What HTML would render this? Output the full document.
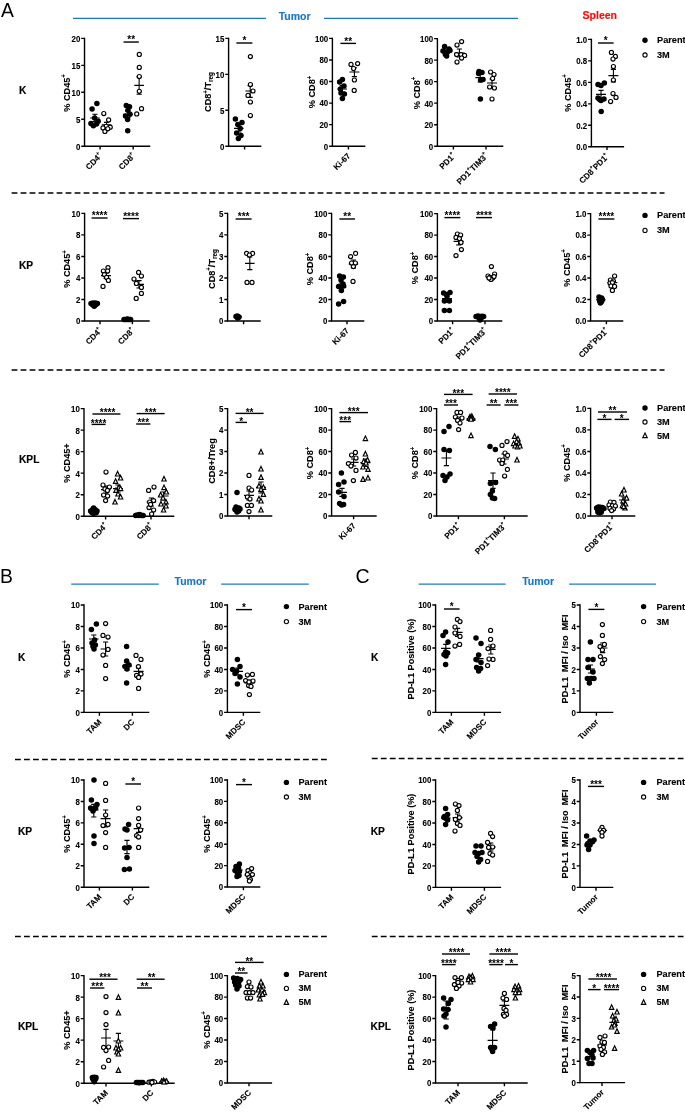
<!DOCTYPE html>
<html lang="en">
<head>
<meta charset="utf-8">
<title>Figure</title>
<style>
html,body{margin:0;padding:0;background:#fff;}
body{width:685px;height:1113px;overflow:hidden;}
svg{display:block;}
svg text{font-family:"Liberation Sans", Arial, Helvetica, sans-serif;font-weight:bold;fill:#000;stroke:#000;stroke-width:0.1px;}
svg text.st{stroke:none;}
</style>
</head>
<body>
<svg width="685" height="1113" viewBox="0 0 685 1113">
<rect width="685" height="1113" fill="#fff"/>
<text x="0.9" y="17" font-size="19.3" fill="#000" font-weight="normal" text-anchor="start" style="fill:#000;font-weight:normal;stroke:#000;stroke-width:0">A</text>
<text x="-0.1" y="583.2" font-size="19.3" fill="#000" font-weight="normal" text-anchor="start" style="fill:#000;font-weight:normal;stroke:#000;stroke-width:0">B</text>
<text x="355.6" y="583.3" font-size="19.6" fill="#000" font-weight="normal" text-anchor="start" style="fill:#000;font-weight:normal;stroke:#000;stroke-width:0">C</text>
<path d="M73 18.45H266" stroke="#1a78c8" stroke-width="1.25" fill="none"/>
<path d="M324 18.45H518" stroke="#1a78c8" stroke-width="1.25" fill="none"/>
<text x="278.7" y="19.5" font-size="10.5" fill="#1a78c8" font-weight="bold" text-anchor="start" style="fill:#1a78c8;font-weight:bold;stroke:#1a78c8;stroke-width:0.15px">Tumor</text>
<text x="582.6" y="19.2" font-size="10.5" fill="#ff0a0a" font-weight="bold" text-anchor="start" style="fill:#ff0a0a;font-weight:bold;stroke:#ff0a0a;stroke-width:0.15px">Spleen</text>
<path d="M71.2 584.1H158.7" stroke="#1a78c8" stroke-width="1.25" fill="none"/>
<path d="M221.2 584.1H308.7" stroke="#1a78c8" stroke-width="1.25" fill="none"/>
<text x="174.5" y="585.2" font-size="10.5" fill="#1a78c8" font-weight="bold" text-anchor="start" style="fill:#1a78c8;font-weight:bold;stroke:#1a78c8;stroke-width:0.15px">Tumor</text>
<path d="M418.7 584.1H505.7" stroke="#1a78c8" stroke-width="1.25" fill="none"/>
<path d="M569.1 584.1H656" stroke="#1a78c8" stroke-width="1.25" fill="none"/>
<text x="522.2" y="585.2" font-size="10.5" fill="#1a78c8" font-weight="bold" text-anchor="start" style="fill:#1a78c8;font-weight:bold;stroke:#1a78c8;stroke-width:0.15px">Tumor</text>
<path d="M11.6 193.1H664.5" stroke="#000" stroke-width="1.5" stroke-dasharray="5.8 3.2" fill="none"/>
<path d="M11.6 370.1H664.5" stroke="#000" stroke-width="1.5" stroke-dasharray="5.8 3.2" fill="none"/>
<path d="M15 759.4H327" stroke="#000" stroke-width="1.5" stroke-dasharray="5.8 3.2" fill="none"/>
<path d="M371.8 758.6H683.5" stroke="#000" stroke-width="1.5" stroke-dasharray="5.8 3.2" fill="none"/>
<path d="M15 936.6H327" stroke="#000" stroke-width="1.5" stroke-dasharray="5.8 3.2" fill="none"/>
<path d="M371.8 936.4H683.5" stroke="#000" stroke-width="1.5" stroke-dasharray="5.8 3.2" fill="none"/>
<text x="19" y="93.8" font-size="10.2" fill="#000" font-weight="bold" text-anchor="start" style="fill:#000;font-weight:bold;stroke:#000;stroke-width:0.15px">K</text>
<text x="19" y="268.8" font-size="10.2" fill="#000" font-weight="bold" text-anchor="start" style="fill:#000;font-weight:bold;stroke:#000;stroke-width:0.15px">KP</text>
<text x="19" y="462.9" font-size="10.2" fill="#000" font-weight="bold" text-anchor="start" style="fill:#000;font-weight:bold;stroke:#000;stroke-width:0.15px">KPL</text>
<text x="17.9" y="660.8" font-size="10.2" fill="#000" font-weight="bold" text-anchor="start" style="fill:#000;font-weight:bold;stroke:#000;stroke-width:0.15px">K</text>
<text x="17.9" y="835.1" font-size="10.2" fill="#000" font-weight="bold" text-anchor="start" style="fill:#000;font-weight:bold;stroke:#000;stroke-width:0.15px">KP</text>
<text x="17.9" y="1029.8" font-size="10.2" fill="#000" font-weight="bold" text-anchor="start" style="fill:#000;font-weight:bold;stroke:#000;stroke-width:0.15px">KPL</text>
<text x="370.9" y="660.6" font-size="10.2" fill="#000" font-weight="bold" text-anchor="start" style="fill:#000;font-weight:bold;stroke:#000;stroke-width:0.15px">K</text>
<text x="370.7" y="835" font-size="10.2" fill="#000" font-weight="bold" text-anchor="start" style="fill:#000;font-weight:bold;stroke:#000;stroke-width:0.15px">KP</text>
<text x="370.6" y="1029.7" font-size="10.2" fill="#000" font-weight="bold" text-anchor="start" style="fill:#000;font-weight:bold;stroke:#000;stroke-width:0.15px">KPL</text>
<circle cx="645" cy="40.2" r="2.7"/>
<text x="657" y="43.1" font-size="9.2">Parent</text>
<circle cx="645" cy="55" r="2.1" fill="#fff" stroke="#000" stroke-width="1.1"/>
<text x="657" y="57.9" font-size="9.2">3M</text>
<circle cx="645" cy="215.4" r="2.7"/>
<text x="657" y="218.3" font-size="9.2">Parent</text>
<circle cx="645" cy="230.4" r="2.1" fill="#fff" stroke="#000" stroke-width="1.1"/>
<text x="657" y="233.3" font-size="9.2">3M</text>
<circle cx="645" cy="408" r="2.7"/>
<text x="657" y="410.9" font-size="9.2">Parent</text>
<circle cx="645" cy="422" r="2.1" fill="#fff" stroke="#000" stroke-width="1.1"/>
<text x="657" y="424.9" font-size="9.2">3M</text>
<path d="M645 433L647.2 437.6H642.8Z" fill="#fff" stroke="#000" stroke-width="1.15"/>
<text x="657" y="438.5" font-size="9.2">5M</text>
<circle cx="286.4" cy="606.6" r="2.7"/>
<text x="298.4" y="609.5" font-size="9.2">Parent</text>
<circle cx="286.4" cy="621.6" r="2.1" fill="#fff" stroke="#000" stroke-width="1.1"/>
<text x="298.4" y="624.5" font-size="9.2">3M</text>
<circle cx="643.6" cy="606.6" r="2.7"/>
<text x="656.4" y="609.5" font-size="9.2">Parent</text>
<circle cx="643.6" cy="621.6" r="2.1" fill="#fff" stroke="#000" stroke-width="1.1"/>
<text x="656.4" y="624.5" font-size="9.2">3M</text>
<circle cx="286.4" cy="782.4" r="2.7"/>
<text x="298.4" y="785.3" font-size="9.2">Parent</text>
<circle cx="286.4" cy="797" r="2.1" fill="#fff" stroke="#000" stroke-width="1.1"/>
<text x="298.4" y="799.9" font-size="9.2">3M</text>
<circle cx="643.6" cy="782.4" r="2.7"/>
<text x="656.4" y="785.3" font-size="9.2">Parent</text>
<circle cx="643.6" cy="797" r="2.1" fill="#fff" stroke="#000" stroke-width="1.1"/>
<text x="656.4" y="799.9" font-size="9.2">3M</text>
<circle cx="286.4" cy="974.4" r="2.7"/>
<text x="298.4" y="977.3" font-size="9.2">Parent</text>
<circle cx="286.4" cy="988.4" r="2.1" fill="#fff" stroke="#000" stroke-width="1.1"/>
<text x="298.4" y="991.3" font-size="9.2">3M</text>
<path d="M286.4 999.8L288.6 1004.4H284.2Z" fill="#fff" stroke="#000" stroke-width="1.15"/>
<text x="298.4" y="1005.3" font-size="9.2">5M</text>
<circle cx="643.6" cy="974.4" r="2.7"/>
<text x="656.4" y="977.3" font-size="9.2">Parent</text>
<circle cx="643.6" cy="988.4" r="2.1" fill="#fff" stroke="#000" stroke-width="1.1"/>
<text x="656.4" y="991.3" font-size="9.2">3M</text>
<path d="M643.6 999.8L645.8 1004.4H641.4Z" fill="#fff" stroke="#000" stroke-width="1.15"/>
<text x="656.4" y="1005.3" font-size="9.2">5M</text>
<g><path d="M84.53 38.35V146.27H149.57" fill="none" stroke="#000" stroke-width="1.4" stroke-linecap="square"/>
<path d="M81.23 38.35H84.53M81.23 65.33H84.53M81.23 92.31H84.53M81.23 119.29H84.53M81.23 146.27H84.53M100.1 146.27V149.57M133.19 146.27V149.57" stroke="#000" stroke-width="1.4" fill="none"/>
<text transform="translate(80.33 41.76) scale(1 1.1)" font-size="7.9" text-anchor="end">20</text>
<text transform="translate(80.33 68.74) scale(1 1.1)" font-size="7.9" text-anchor="end">15</text>
<text transform="translate(80.33 95.72) scale(1 1.1)" font-size="7.9" text-anchor="end">10</text>
<text transform="translate(80.33 122.7) scale(1 1.1)" font-size="7.9" text-anchor="end">5</text>
<text transform="translate(80.33 149.68) scale(1 1.1)" font-size="7.9" text-anchor="end">0</text>
<text transform="translate(102.7 156.47) rotate(-45)" font-size="8.2" text-anchor="end">CD4<tspan dy="-4.1" font-size="5.08">+</tspan></text>
<text transform="translate(135.79 156.47) rotate(-45)" font-size="8.2" text-anchor="end">CD8<tspan dy="-4.1" font-size="5.08">+</tspan></text>
<text transform="translate(69.59 92.95) rotate(-90) scale(1 1.07)" font-size="9.15" text-anchor="middle" xml:space="preserve">% CD45<tspan dy="-3.39" font-size="6.04">+</tspan></text>
<path d="M123.55 42.04H138.81" stroke="#000" stroke-width="1.4"/>
<text x="131.18" y="43.14" font-size="10" text-anchor="middle" class="st">**</text>
<path d="M90.15 118H99.78M94.97 114.31V121.54M92.37 114.31H97.57M92.37 121.54H97.57" stroke="#000" stroke-width="1.1" fill="none"/>
<circle cx="96.89" cy="103.39" r="2.75"/>
<circle cx="92.07" cy="109.01" r="2.75"/>
<circle cx="94.64" cy="118" r="2.75"/>
<circle cx="90.95" cy="123.62" r="2.75"/>
<circle cx="93.36" cy="125.87" r="2.75"/>
<circle cx="96.57" cy="123.95" r="2.75"/>
<circle cx="98.18" cy="121.22" r="2.75"/>
<path d="M101.71 124.75H111.35M106.53 122.34V127.32M103.93 122.34H109.13M103.93 127.32H109.13" stroke="#000" stroke-width="1.1" fill="none"/>
<circle cx="103.8" cy="113.51" r="2.05" fill="#fff" stroke="#000" stroke-width="1.15"/>
<circle cx="108.62" cy="119.93" r="2.05" fill="#fff" stroke="#000" stroke-width="1.15"/>
<circle cx="106.21" cy="126.35" r="2.05" fill="#fff" stroke="#000" stroke-width="1.15"/>
<circle cx="103" cy="127.96" r="2.05" fill="#fff" stroke="#000" stroke-width="1.15"/>
<circle cx="110.22" cy="127.16" r="2.05" fill="#fff" stroke="#000" stroke-width="1.15"/>
<circle cx="104.92" cy="131.49" r="2.05" fill="#fff" stroke="#000" stroke-width="1.15"/>
<circle cx="107.81" cy="128.76" r="2.05" fill="#fff" stroke="#000" stroke-width="1.15"/>
<path d="M123.07 114.31H132.7M127.89 111.1V117.52M125.29 111.1H130.49M125.29 117.52H130.49" stroke="#000" stroke-width="1.1" fill="none"/>
<circle cx="126.28" cy="105.48" r="2.75"/>
<circle cx="129.49" cy="106.76" r="2.75"/>
<circle cx="127.89" cy="110.3" r="2.75"/>
<circle cx="125.48" cy="115.92" r="2.75"/>
<circle cx="129.97" cy="114.31" r="2.75"/>
<circle cx="127.57" cy="119.61" r="2.75"/>
<circle cx="127.73" cy="130.85" r="2.75"/>
<path d="M134.31 85.4H143.95M139.13 76.89V94.24M136.53 76.89H141.73M136.53 94.24H141.73" stroke="#000" stroke-width="1.1" fill="none"/>
<circle cx="139.29" cy="54.41" r="2.05" fill="#fff" stroke="#000" stroke-width="1.15"/>
<circle cx="139.29" cy="67.42" r="2.05" fill="#fff" stroke="#000" stroke-width="1.15"/>
<circle cx="139.29" cy="76.57" r="2.05" fill="#fff" stroke="#000" stroke-width="1.15"/>
<circle cx="139.29" cy="91.35" r="2.05" fill="#fff" stroke="#000" stroke-width="1.15"/>
<circle cx="141.54" cy="108.69" r="2.05" fill="#fff" stroke="#000" stroke-width="1.15"/>
<circle cx="136.72" cy="113.99" r="2.05" fill="#fff" stroke="#000" stroke-width="1.15"/></g>
<g><path d="M228.6 38.4V146.2H260.6" fill="none" stroke="#000" stroke-width="1.4" stroke-linecap="square"/>
<path d="M225.3 38.4H228.6M225.3 74.33H228.6M225.3 110.27H228.6M225.3 146.2H228.6M244.6 146.2V149.5" stroke="#000" stroke-width="1.4" fill="none"/>
<text transform="translate(224.4 41.81) scale(1 1.1)" font-size="7.9" text-anchor="end">15</text>
<text transform="translate(224.4 77.74) scale(1 1.1)" font-size="7.9" text-anchor="end">10</text>
<text transform="translate(224.4 113.68) scale(1 1.1)" font-size="7.9" text-anchor="end">5</text>
<text transform="translate(224.4 149.61) scale(1 1.1)" font-size="7.9" text-anchor="end">0</text>
<text transform="translate(211.32 92) rotate(-90) scale(1 1.07)" font-size="9.15" text-anchor="middle" xml:space="preserve">CD8<tspan dy="-3.39" font-size="6.04">+</tspan><tspan dy="3.39">/T</tspan><tspan dy="1.83" font-size="6.41">reg</tspan></text>
<path d="M236.4 43H252.4" stroke="#000" stroke-width="1.4"/>
<text x="244.4" y="44.1" font-size="10" text-anchor="middle" class="st">*</text>
<path d="M234 128.4H243.6M238.8 125V132M236.2 125H241.4M236.2 132H241.4" stroke="#000" stroke-width="1.1" fill="none"/>
<circle cx="235.4" cy="119" r="2.75"/>
<circle cx="242" cy="122.4" r="2.75"/>
<circle cx="237.8" cy="124.6" r="2.75"/>
<circle cx="240.2" cy="128.6" r="2.75"/>
<circle cx="236.6" cy="133" r="2.75"/>
<circle cx="241" cy="135.6" r="2.75"/>
<circle cx="238.4" cy="138.4" r="2.75"/>
<path d="M245.4 91H255M250.2 85.6V97.4M247.6 85.6H252.8M247.6 97.4H252.8" stroke="#000" stroke-width="1.1" fill="none"/>
<circle cx="250.4" cy="56.6" r="2.05" fill="#fff" stroke="#000" stroke-width="1.15"/>
<circle cx="250.4" cy="84.6" r="2.05" fill="#fff" stroke="#000" stroke-width="1.15"/>
<circle cx="253" cy="91" r="2.05" fill="#fff" stroke="#000" stroke-width="1.15"/>
<circle cx="248" cy="95.4" r="2.05" fill="#fff" stroke="#000" stroke-width="1.15"/>
<circle cx="250.4" cy="102" r="2.05" fill="#fff" stroke="#000" stroke-width="1.15"/>
<circle cx="250.4" cy="115.6" r="2.05" fill="#fff" stroke="#000" stroke-width="1.15"/></g>
<g><path d="M332.4 38.4V146.2H364.6" fill="none" stroke="#000" stroke-width="1.4" stroke-linecap="square"/>
<path d="M329.1 38.4H332.4M329.1 59.96H332.4M329.1 81.52H332.4M329.1 103.08H332.4M329.1 124.64H332.4M329.1 146.2H332.4M348.4 146.2V149.5" stroke="#000" stroke-width="1.4" fill="none"/>
<text transform="translate(328.2 41.81) scale(1 1.1)" font-size="7.9" text-anchor="end">100</text>
<text transform="translate(328.2 63.37) scale(1 1.1)" font-size="7.9" text-anchor="end">80</text>
<text transform="translate(328.2 84.93) scale(1 1.1)" font-size="7.9" text-anchor="end">60</text>
<text transform="translate(328.2 106.49) scale(1 1.1)" font-size="7.9" text-anchor="end">40</text>
<text transform="translate(328.2 128.05) scale(1 1.1)" font-size="7.9" text-anchor="end">20</text>
<text transform="translate(328.2 149.61) scale(1 1.1)" font-size="7.9" text-anchor="end">0</text>
<text transform="translate(351 156.4) rotate(-45)" font-size="8.2" text-anchor="end">Ki-67</text>
<text transform="translate(315.12 92) rotate(-90) scale(1 1.07)" font-size="9.15" text-anchor="middle" xml:space="preserve">% CD8<tspan dy="-3.39" font-size="6.04">+</tspan></text>
<path d="M340.4 43.4H356" stroke="#000" stroke-width="1.4"/>
<text x="348.2" y="44.5" font-size="10" text-anchor="middle" class="st">**</text>
<path d="M337.4 89H347M342.2 85.6V92.4M339.6 85.6H344.8M339.6 92.4H344.8" stroke="#000" stroke-width="1.1" fill="none"/>
<circle cx="342.4" cy="79.4" r="2.75"/>
<circle cx="339.6" cy="82" r="2.75"/>
<circle cx="344" cy="86" r="2.75"/>
<circle cx="340.4" cy="89" r="2.75"/>
<circle cx="341" cy="93" r="2.75"/>
<circle cx="344.4" cy="94" r="2.75"/>
<circle cx="342.4" cy="98.6" r="2.75"/>
<path d="M349.4 72H359.4M354.4 67.8V76.6M351.8 67.8H357M351.8 76.6H357" stroke="#000" stroke-width="1.1" fill="none"/>
<circle cx="351" cy="64.4" r="2.05" fill="#fff" stroke="#000" stroke-width="1.15"/>
<circle cx="357.6" cy="63.6" r="2.05" fill="#fff" stroke="#000" stroke-width="1.15"/>
<circle cx="353.6" cy="68.6" r="2.05" fill="#fff" stroke="#000" stroke-width="1.15"/>
<circle cx="354.4" cy="80" r="2.05" fill="#fff" stroke="#000" stroke-width="1.15"/>
<circle cx="354.2" cy="90.4" r="2.05" fill="#fff" stroke="#000" stroke-width="1.15"/></g>
<g><path d="M437.4 38.6V146.2H502.6" fill="none" stroke="#000" stroke-width="1.4" stroke-linecap="square"/>
<path d="M434.1 38.6H437.4M434.1 60.12H437.4M434.1 81.64H437.4M434.1 103.16H437.4M434.1 124.68H437.4M434.1 146.2H437.4M453.4 146.2V149.5M486 146.2V149.5" stroke="#000" stroke-width="1.4" fill="none"/>
<text transform="translate(433.2 42.01) scale(1 1.1)" font-size="7.9" text-anchor="end">100</text>
<text transform="translate(433.2 63.53) scale(1 1.1)" font-size="7.9" text-anchor="end">80</text>
<text transform="translate(433.2 85.05) scale(1 1.1)" font-size="7.9" text-anchor="end">60</text>
<text transform="translate(433.2 106.57) scale(1 1.1)" font-size="7.9" text-anchor="end">40</text>
<text transform="translate(433.2 128.09) scale(1 1.1)" font-size="7.9" text-anchor="end">20</text>
<text transform="translate(433.2 149.61) scale(1 1.1)" font-size="7.9" text-anchor="end">0</text>
<text transform="translate(456 156.4) rotate(-45)" font-size="8.2" text-anchor="end">PD1<tspan dy="-4.1" font-size="5.08">+</tspan></text>
<text transform="translate(488.6 156.4) rotate(-45)" font-size="8.2" text-anchor="end">PD1<tspan dy="-4.1" font-size="5.08">+</tspan><tspan dy="4.1">TIM3</tspan><tspan dy="-4.1" font-size="5.08">+</tspan></text>
<text transform="translate(419.72 93) rotate(-90) scale(1 1.07)" font-size="9.15" text-anchor="middle" xml:space="preserve">% CD8<tspan dy="-3.39" font-size="6.04">+</tspan></text>
<path d="M442 51.6H451.6M446.8 50V53.2M444.2 50H449.4M444.2 53.2H449.4" stroke="#000" stroke-width="1.1" fill="none"/>
<circle cx="444.6" cy="46.6" r="2.75"/>
<circle cx="449" cy="49" r="2.75"/>
<circle cx="443" cy="51" r="2.75"/>
<circle cx="447.4" cy="52" r="2.75"/>
<circle cx="450" cy="50.6" r="2.75"/>
<circle cx="445.4" cy="54.6" r="2.75"/>
<circle cx="446.6" cy="56" r="2.75"/>
<path d="M454.4 53H464.4M459.4 49V57M456.8 49H462M456.8 57H462" stroke="#000" stroke-width="1.1" fill="none"/>
<circle cx="461.6" cy="41.6" r="2.05" fill="#fff" stroke="#000" stroke-width="1.15"/>
<circle cx="457" cy="45" r="2.05" fill="#fff" stroke="#000" stroke-width="1.15"/>
<circle cx="456.6" cy="54.6" r="2.05" fill="#fff" stroke="#000" stroke-width="1.15"/>
<circle cx="461" cy="54.6" r="2.05" fill="#fff" stroke="#000" stroke-width="1.15"/>
<circle cx="464.6" cy="55.4" r="2.05" fill="#fff" stroke="#000" stroke-width="1.15"/>
<circle cx="461.6" cy="58" r="2.05" fill="#fff" stroke="#000" stroke-width="1.15"/>
<circle cx="457" cy="62" r="2.05" fill="#fff" stroke="#000" stroke-width="1.15"/>
<path d="M475.4 77.6H485M480.2 73.6V82M477.6 73.6H482.8M477.6 82H482.8" stroke="#000" stroke-width="1.1" fill="none"/>
<circle cx="479" cy="71.4" r="2.75"/>
<circle cx="482" cy="72.4" r="2.75"/>
<circle cx="478.6" cy="73.4" r="2.75"/>
<circle cx="483" cy="79.4" r="2.75"/>
<circle cx="480.6" cy="80" r="2.75"/>
<circle cx="480.4" cy="99" r="2.75"/>
<path d="M487 83H497M492 79V87.4M489.4 79H494.6M489.4 87.4H494.6" stroke="#000" stroke-width="1.1" fill="none"/>
<circle cx="490.6" cy="72" r="2.05" fill="#fff" stroke="#000" stroke-width="1.15"/>
<circle cx="494" cy="74.6" r="2.05" fill="#fff" stroke="#000" stroke-width="1.15"/>
<circle cx="492.6" cy="78.6" r="2.05" fill="#fff" stroke="#000" stroke-width="1.15"/>
<circle cx="489.6" cy="87" r="2.05" fill="#fff" stroke="#000" stroke-width="1.15"/>
<circle cx="494.4" cy="88" r="2.05" fill="#fff" stroke="#000" stroke-width="1.15"/>
<circle cx="492" cy="99" r="2.05" fill="#fff" stroke="#000" stroke-width="1.15"/></g>
<g><path d="M591.4 39.4V146.8H623.4" fill="none" stroke="#000" stroke-width="1.4" stroke-linecap="square"/>
<path d="M588.1 39.4H591.4M588.1 60.88H591.4M588.1 82.36H591.4M588.1 103.84H591.4M588.1 125.32H591.4M588.1 146.8H591.4M607 146.8V150.1" stroke="#000" stroke-width="1.4" fill="none"/>
<text transform="translate(587.2 42.81) scale(1 1.1)" font-size="7.9" text-anchor="end">1.0</text>
<text transform="translate(587.2 64.29) scale(1 1.1)" font-size="7.9" text-anchor="end">0.8</text>
<text transform="translate(587.2 85.77) scale(1 1.1)" font-size="7.9" text-anchor="end">0.6</text>
<text transform="translate(587.2 107.25) scale(1 1.1)" font-size="7.9" text-anchor="end">0.4</text>
<text transform="translate(587.2 128.73) scale(1 1.1)" font-size="7.9" text-anchor="end">0.2</text>
<text transform="translate(587.2 150.21) scale(1 1.1)" font-size="7.9" text-anchor="end">0.0</text>
<text transform="translate(609.6 157) rotate(-45)" font-size="8.2" text-anchor="end">CD8<tspan dy="-4.1" font-size="5.08">+</tspan><tspan dy="4.1">PD1</tspan><tspan dy="-4.1" font-size="5.08">+</tspan></text>
<text transform="translate(570.72 93) rotate(-90) scale(1 1.07)" font-size="9.15" text-anchor="middle" xml:space="preserve">% CD45<tspan dy="-3.39" font-size="6.04">+</tspan></text>
<path d="M598 43H613.6" stroke="#000" stroke-width="1.4"/>
<text x="605.8" y="44.1" font-size="10" text-anchor="middle" class="st">*</text>
<path d="M596 94.4H606M601 90.4V98.4M598.4 90.4H603.6M598.4 98.4H603.6" stroke="#000" stroke-width="1.1" fill="none"/>
<circle cx="598" cy="84.4" r="2.75"/>
<circle cx="604.4" cy="83" r="2.75"/>
<circle cx="601" cy="85.6" r="2.75"/>
<circle cx="598" cy="98" r="2.75"/>
<circle cx="604" cy="99" r="2.75"/>
<circle cx="601" cy="100.6" r="2.75"/>
<circle cx="599.6" cy="99.4" r="2.75"/>
<circle cx="601.2" cy="111.4" r="2.75"/>
<path d="M608.4 75.6H618.4M613.4 69.4V82M610.8 69.4H616M610.8 82H616" stroke="#000" stroke-width="1.1" fill="none"/>
<circle cx="611.4" cy="52.4" r="2.05" fill="#fff" stroke="#000" stroke-width="1.15"/>
<circle cx="615.4" cy="56.4" r="2.05" fill="#fff" stroke="#000" stroke-width="1.15"/>
<circle cx="613" cy="59" r="2.05" fill="#fff" stroke="#000" stroke-width="1.15"/>
<circle cx="613.4" cy="66.6" r="2.05" fill="#fff" stroke="#000" stroke-width="1.15"/>
<circle cx="613.4" cy="80" r="2.05" fill="#fff" stroke="#000" stroke-width="1.15"/>
<circle cx="613" cy="93.6" r="2.05" fill="#fff" stroke="#000" stroke-width="1.15"/>
<circle cx="616" cy="97.4" r="2.05" fill="#fff" stroke="#000" stroke-width="1.15"/>
<circle cx="610.6" cy="101.6" r="2.05" fill="#fff" stroke="#000" stroke-width="1.15"/></g>
<g><path d="M84.6 213.4V321H149" fill="none" stroke="#000" stroke-width="1.4" stroke-linecap="square"/>
<path d="M81.3 213.4H84.6M81.3 234.92H84.6M81.3 256.44H84.6M81.3 277.96H84.6M81.3 299.48H84.6M81.3 321H84.6M100 321V324.3M132.4 321V324.3" stroke="#000" stroke-width="1.4" fill="none"/>
<text transform="translate(80.4 216.81) scale(1 1.1)" font-size="7.9" text-anchor="end">10</text>
<text transform="translate(80.4 238.33) scale(1 1.1)" font-size="7.9" text-anchor="end">8</text>
<text transform="translate(80.4 259.85) scale(1 1.1)" font-size="7.9" text-anchor="end">6</text>
<text transform="translate(80.4 281.37) scale(1 1.1)" font-size="7.9" text-anchor="end">4</text>
<text transform="translate(80.4 302.89) scale(1 1.1)" font-size="7.9" text-anchor="end">2</text>
<text transform="translate(80.4 324.41) scale(1 1.1)" font-size="7.9" text-anchor="end">0</text>
<text transform="translate(102.6 331.2) rotate(-45)" font-size="8.2" text-anchor="end">CD4<tspan dy="-4.1" font-size="5.08">+</tspan></text>
<text transform="translate(135 331.2) rotate(-45)" font-size="8.2" text-anchor="end">CD8<tspan dy="-4.1" font-size="5.08">+</tspan></text>
<text transform="translate(70.12 269) rotate(-90) scale(1 1.07)" font-size="9.15" text-anchor="middle" xml:space="preserve">% CD45<tspan dy="-3.39" font-size="6.04">+</tspan></text>
<path d="M91.6 218H107.6" stroke="#000" stroke-width="1.4"/>
<text x="99.6" y="219.1" font-size="10" text-anchor="middle" class="st">****</text>
<path d="M123 218.6H139" stroke="#000" stroke-width="1.4"/>
<text x="131" y="219.7" font-size="10" text-anchor="middle" class="st">****</text>
<path d="M89.4 304.2H99" stroke="#000" stroke-width="1.1" fill="none"/>
<circle cx="91" cy="303.4" r="2.75"/>
<circle cx="92.6" cy="304.8" r="2.75"/>
<circle cx="94.2" cy="305.6" r="2.75"/>
<circle cx="95.8" cy="304.8" r="2.75"/>
<circle cx="97.4" cy="303.4" r="2.75"/>
<circle cx="93" cy="303" r="2.75"/>
<circle cx="95.4" cy="303" r="2.75"/>
<circle cx="94.2" cy="306.2" r="2.75"/>
<path d="M101 275.6H111M106 273V278.2M103.4 273H108.6M103.4 278.2H108.6" stroke="#000" stroke-width="1.1" fill="none"/>
<circle cx="108" cy="267.6" r="2.05" fill="#fff" stroke="#000" stroke-width="1.15"/>
<circle cx="103.4" cy="271" r="2.05" fill="#fff" stroke="#000" stroke-width="1.15"/>
<circle cx="107.6" cy="271" r="2.05" fill="#fff" stroke="#000" stroke-width="1.15"/>
<circle cx="104.4" cy="274.6" r="2.05" fill="#fff" stroke="#000" stroke-width="1.15"/>
<circle cx="106.6" cy="277.4" r="2.05" fill="#fff" stroke="#000" stroke-width="1.15"/>
<circle cx="108.4" cy="280.4" r="2.05" fill="#fff" stroke="#000" stroke-width="1.15"/>
<circle cx="103" cy="286.4" r="2.05" fill="#fff" stroke="#000" stroke-width="1.15"/>
<path d="M122.6 319.4H131.8" stroke="#000" stroke-width="1.1" fill="none"/>
<circle cx="124" cy="319.4" r="2.75"/>
<circle cx="125.4" cy="319.6" r="2.75"/>
<circle cx="126.8" cy="319.4" r="2.75"/>
<circle cx="128.2" cy="319.6" r="2.75"/>
<circle cx="129.6" cy="319.4" r="2.75"/>
<circle cx="130.6" cy="319.4" r="2.75"/>
<circle cx="127.4" cy="319" r="2.75"/>
<path d="M134 284.4H144M139 280.6V288M136.4 280.6H141.6M136.4 288H141.6" stroke="#000" stroke-width="1.1" fill="none"/>
<circle cx="138.6" cy="272.4" r="2.05" fill="#fff" stroke="#000" stroke-width="1.15"/>
<circle cx="134" cy="279" r="2.05" fill="#fff" stroke="#000" stroke-width="1.15"/>
<circle cx="141.4" cy="276" r="2.05" fill="#fff" stroke="#000" stroke-width="1.15"/>
<circle cx="136.4" cy="283.4" r="2.05" fill="#fff" stroke="#000" stroke-width="1.15"/>
<circle cx="141.4" cy="287.4" r="2.05" fill="#fff" stroke="#000" stroke-width="1.15"/>
<circle cx="141.4" cy="293.4" r="2.05" fill="#fff" stroke="#000" stroke-width="1.15"/>
<circle cx="136.2" cy="298.4" r="2.05" fill="#fff" stroke="#000" stroke-width="1.15"/></g>
<g><path d="M227.6 213.4V321H260" fill="none" stroke="#000" stroke-width="1.4" stroke-linecap="square"/>
<path d="M224.3 213.4H227.6M224.3 234.92H227.6M224.3 256.44H227.6M224.3 277.96H227.6M224.3 299.48H227.6M224.3 321H227.6M243.6 321V324.3" stroke="#000" stroke-width="1.4" fill="none"/>
<text transform="translate(223.4 216.81) scale(1 1.1)" font-size="7.9" text-anchor="end">5</text>
<text transform="translate(223.4 238.33) scale(1 1.1)" font-size="7.9" text-anchor="end">4</text>
<text transform="translate(223.4 259.85) scale(1 1.1)" font-size="7.9" text-anchor="end">3</text>
<text transform="translate(223.4 281.37) scale(1 1.1)" font-size="7.9" text-anchor="end">2</text>
<text transform="translate(223.4 302.89) scale(1 1.1)" font-size="7.9" text-anchor="end">1</text>
<text transform="translate(223.4 324.41) scale(1 1.1)" font-size="7.9" text-anchor="end">0</text>
<text transform="translate(214.72 269) rotate(-90) scale(1 1.07)" font-size="9.15" text-anchor="middle" xml:space="preserve">CD8<tspan dy="-3.39" font-size="6.04">+</tspan><tspan dy="3.39">/T</tspan><tspan dy="1.83" font-size="6.41">reg</tspan></text>
<path d="M235.6 219H251.6" stroke="#000" stroke-width="1.4"/>
<text x="243.6" y="220.1" font-size="10" text-anchor="middle" class="st">***</text>
<path d="M234 317H242" stroke="#000" stroke-width="1.1" fill="none"/>
<circle cx="236" cy="316.6" r="2.75"/>
<circle cx="237.4" cy="316" r="2.75"/>
<circle cx="239" cy="317" r="2.75"/>
<circle cx="237.6" cy="318" r="2.75"/>
<circle cx="238.4" cy="317.4" r="2.75"/>
<path d="M245 263.4H254.6M249.8 257V269.6M247.2 257H252.4M247.2 269.6H252.4" stroke="#000" stroke-width="1.1" fill="none"/>
<circle cx="246.6" cy="253.4" r="2.05" fill="#fff" stroke="#000" stroke-width="1.15"/>
<circle cx="252.6" cy="253.4" r="2.05" fill="#fff" stroke="#000" stroke-width="1.15"/>
<circle cx="249.4" cy="255" r="2.05" fill="#fff" stroke="#000" stroke-width="1.15"/>
<circle cx="247" cy="282.4" r="2.05" fill="#fff" stroke="#000" stroke-width="1.15"/>
<circle cx="252" cy="282.4" r="2.05" fill="#fff" stroke="#000" stroke-width="1.15"/></g>
<g><path d="M331.6 213.4V321H363.6" fill="none" stroke="#000" stroke-width="1.4" stroke-linecap="square"/>
<path d="M328.3 213.4H331.6M328.3 234.92H331.6M328.3 256.44H331.6M328.3 277.96H331.6M328.3 299.48H331.6M328.3 321H331.6M347 321V324.3" stroke="#000" stroke-width="1.4" fill="none"/>
<text transform="translate(327.4 216.81) scale(1 1.1)" font-size="7.9" text-anchor="end">100</text>
<text transform="translate(327.4 238.33) scale(1 1.1)" font-size="7.9" text-anchor="end">80</text>
<text transform="translate(327.4 259.85) scale(1 1.1)" font-size="7.9" text-anchor="end">60</text>
<text transform="translate(327.4 281.37) scale(1 1.1)" font-size="7.9" text-anchor="end">40</text>
<text transform="translate(327.4 302.89) scale(1 1.1)" font-size="7.9" text-anchor="end">20</text>
<text transform="translate(327.4 324.41) scale(1 1.1)" font-size="7.9" text-anchor="end">0</text>
<text transform="translate(349.6 331.2) rotate(-45)" font-size="8.2" text-anchor="end">Ki-67</text>
<text transform="translate(313.32 269) rotate(-90) scale(1 1.07)" font-size="9.15" text-anchor="middle" xml:space="preserve">% CD8<tspan dy="-3.39" font-size="6.04">+</tspan></text>
<path d="M339.4 219H355" stroke="#000" stroke-width="1.4"/>
<text x="347.2" y="220.1" font-size="10" text-anchor="middle" class="st">**</text>
<path d="M336.4 287H346.4M341.4 283V291M338.8 283H344M338.8 291H344" stroke="#000" stroke-width="1.1" fill="none"/>
<circle cx="339.6" cy="276" r="2.75"/>
<circle cx="343.4" cy="277" r="2.75"/>
<circle cx="341" cy="280" r="2.75"/>
<circle cx="343" cy="284" r="2.75"/>
<circle cx="338.6" cy="286.4" r="2.75"/>
<circle cx="343.6" cy="286" r="2.75"/>
<circle cx="341.4" cy="290.6" r="2.75"/>
<circle cx="343.6" cy="301.4" r="2.75"/>
<circle cx="338.6" cy="304" r="2.75"/>
<path d="M348.6 264H358.2M353.4 260V268M350.8 260H356M350.8 268H356" stroke="#000" stroke-width="1.1" fill="none"/>
<circle cx="355.6" cy="253.4" r="2.05" fill="#fff" stroke="#000" stroke-width="1.15"/>
<circle cx="350.6" cy="256.6" r="2.05" fill="#fff" stroke="#000" stroke-width="1.15"/>
<circle cx="351.6" cy="263" r="2.05" fill="#fff" stroke="#000" stroke-width="1.15"/>
<circle cx="355.4" cy="263" r="2.05" fill="#fff" stroke="#000" stroke-width="1.15"/>
<circle cx="353.4" cy="266.6" r="2.05" fill="#fff" stroke="#000" stroke-width="1.15"/>
<circle cx="353" cy="281.4" r="2.05" fill="#fff" stroke="#000" stroke-width="1.15"/></g>
<g><path d="M437.4 213.6V321H501.6" fill="none" stroke="#000" stroke-width="1.4" stroke-linecap="square"/>
<path d="M434.1 213.6H437.4M434.1 235.08H437.4M434.1 256.56H437.4M434.1 278.04H437.4M434.1 299.52H437.4M434.1 321H437.4M452.6 321V324.3M485 321V324.3" stroke="#000" stroke-width="1.4" fill="none"/>
<text transform="translate(433.2 217.01) scale(1 1.1)" font-size="7.9" text-anchor="end">100</text>
<text transform="translate(433.2 238.49) scale(1 1.1)" font-size="7.9" text-anchor="end">80</text>
<text transform="translate(433.2 259.97) scale(1 1.1)" font-size="7.9" text-anchor="end">60</text>
<text transform="translate(433.2 281.45) scale(1 1.1)" font-size="7.9" text-anchor="end">40</text>
<text transform="translate(433.2 302.93) scale(1 1.1)" font-size="7.9" text-anchor="end">20</text>
<text transform="translate(433.2 324.41) scale(1 1.1)" font-size="7.9" text-anchor="end">0</text>
<text transform="translate(455.2 331.2) rotate(-45)" font-size="8.2" text-anchor="end">PD1<tspan dy="-4.1" font-size="5.08">+</tspan></text>
<text transform="translate(487.6 331.2) rotate(-45)" font-size="8.2" text-anchor="end">PD1<tspan dy="-4.1" font-size="5.08">+</tspan><tspan dy="4.1">TIM3</tspan><tspan dy="-4.1" font-size="5.08">+</tspan></text>
<text transform="translate(418.32 268) rotate(-90) scale(1 1.07)" font-size="9.15" text-anchor="middle" xml:space="preserve">% CD8<tspan dy="-3.39" font-size="6.04">+</tspan></text>
<path d="M444.4 217.6H460.4" stroke="#000" stroke-width="1.4"/>
<text x="452.4" y="218.7" font-size="10" text-anchor="middle" class="st">****</text>
<path d="M476 217.6H492" stroke="#000" stroke-width="1.4"/>
<text x="484" y="218.7" font-size="10" text-anchor="middle" class="st">****</text>
<path d="M442 298.6H452M447 295V302.2M444.4 295H449.6M444.4 302.2H449.6" stroke="#000" stroke-width="1.1" fill="none"/>
<circle cx="443.6" cy="293" r="2.75"/>
<circle cx="450" cy="292.6" r="2.75"/>
<circle cx="446.6" cy="294.4" r="2.75"/>
<circle cx="447" cy="296.2" r="2.75"/>
<circle cx="444.4" cy="301" r="2.75"/>
<circle cx="449.4" cy="301" r="2.75"/>
<circle cx="444.4" cy="310.4" r="2.75"/>
<circle cx="449.4" cy="310.4" r="2.75"/>
<path d="M453.6 241.4H463.6M458.6 238V245M456 238H461.2M456 245H461.2" stroke="#000" stroke-width="1.1" fill="none"/>
<circle cx="457.4" cy="234" r="2.05" fill="#fff" stroke="#000" stroke-width="1.15"/>
<circle cx="460.6" cy="235" r="2.05" fill="#fff" stroke="#000" stroke-width="1.15"/>
<circle cx="456" cy="237.4" r="2.05" fill="#fff" stroke="#000" stroke-width="1.15"/>
<circle cx="459.4" cy="238.6" r="2.05" fill="#fff" stroke="#000" stroke-width="1.15"/>
<circle cx="461" cy="242.4" r="2.05" fill="#fff" stroke="#000" stroke-width="1.15"/>
<circle cx="461.4" cy="249.6" r="2.05" fill="#fff" stroke="#000" stroke-width="1.15"/>
<circle cx="456" cy="255.6" r="2.05" fill="#fff" stroke="#000" stroke-width="1.15"/>
<path d="M475 317.2H485" stroke="#000" stroke-width="1.1" fill="none"/>
<circle cx="476" cy="316.6" r="2.75"/>
<circle cx="478" cy="316" r="2.75"/>
<circle cx="480" cy="316.6" r="2.75"/>
<circle cx="482" cy="316.2" r="2.75"/>
<circle cx="483.6" cy="316.6" r="2.75"/>
<circle cx="479" cy="318" r="2.75"/>
<circle cx="481" cy="318.6" r="2.75"/>
<circle cx="480" cy="320" r="2.75"/>
<path d="M486.6 276.6H496.2" stroke="#000" stroke-width="1.1" fill="none"/>
<circle cx="491.4" cy="266.6" r="2.05" fill="#fff" stroke="#000" stroke-width="1.15"/>
<circle cx="494.6" cy="274" r="2.05" fill="#fff" stroke="#000" stroke-width="1.15"/>
<circle cx="488" cy="276" r="2.05" fill="#fff" stroke="#000" stroke-width="1.15"/>
<circle cx="490" cy="277.4" r="2.05" fill="#fff" stroke="#000" stroke-width="1.15"/>
<circle cx="492.6" cy="278" r="2.05" fill="#fff" stroke="#000" stroke-width="1.15"/>
<circle cx="494" cy="276.6" r="2.05" fill="#fff" stroke="#000" stroke-width="1.15"/>
<circle cx="491" cy="279.4" r="2.05" fill="#fff" stroke="#000" stroke-width="1.15"/>
<circle cx="489" cy="278" r="2.05" fill="#fff" stroke="#000" stroke-width="1.15"/></g>
<g><path d="M590.6 213.6V321H622.6" fill="none" stroke="#000" stroke-width="1.4" stroke-linecap="square"/>
<path d="M587.3 213.6H590.6M587.3 235.08H590.6M587.3 256.56H590.6M587.3 278.04H590.6M587.3 299.52H590.6M587.3 321H590.6M606.4 321V324.3" stroke="#000" stroke-width="1.4" fill="none"/>
<text transform="translate(586.4 217.01) scale(1 1.1)" font-size="7.9" text-anchor="end">1.0</text>
<text transform="translate(586.4 238.49) scale(1 1.1)" font-size="7.9" text-anchor="end">0.8</text>
<text transform="translate(586.4 259.97) scale(1 1.1)" font-size="7.9" text-anchor="end">0.6</text>
<text transform="translate(586.4 281.45) scale(1 1.1)" font-size="7.9" text-anchor="end">0.4</text>
<text transform="translate(586.4 302.93) scale(1 1.1)" font-size="7.9" text-anchor="end">0.2</text>
<text transform="translate(586.4 324.41) scale(1 1.1)" font-size="7.9" text-anchor="end">0.0</text>
<text transform="translate(609 331.2) rotate(-45)" font-size="8.2" text-anchor="end">CD8<tspan dy="-4.1" font-size="5.08">+</tspan><tspan dy="4.1">PD1</tspan><tspan dy="-4.1" font-size="5.08">+</tspan></text>
<text transform="translate(569.72 268) rotate(-90) scale(1 1.07)" font-size="9.15" text-anchor="middle" xml:space="preserve">% CD45<tspan dy="-3.39" font-size="6.04">+</tspan></text>
<path d="M598.4 219H614.4" stroke="#000" stroke-width="1.4"/>
<text x="606.4" y="220.1" font-size="10" text-anchor="middle" class="st">****</text>
<path d="M596 299.8H605.6" stroke="#000" stroke-width="1.1" fill="none"/>
<circle cx="599" cy="297" r="2.75"/>
<circle cx="601.6" cy="298" r="2.75"/>
<circle cx="600" cy="299" r="2.75"/>
<circle cx="602.4" cy="299.4" r="2.75"/>
<circle cx="599.6" cy="301" r="2.75"/>
<circle cx="601.6" cy="301.4" r="2.75"/>
<circle cx="600.4" cy="303" r="2.75"/>
<circle cx="601" cy="300" r="2.75"/>
<path d="M607.4 282.6H617.4" stroke="#000" stroke-width="1.1" fill="none"/>
<circle cx="614.6" cy="276" r="2.05" fill="#fff" stroke="#000" stroke-width="1.15"/>
<circle cx="610.4" cy="280" r="2.05" fill="#fff" stroke="#000" stroke-width="1.15"/>
<circle cx="613.4" cy="281" r="2.05" fill="#fff" stroke="#000" stroke-width="1.15"/>
<circle cx="610" cy="283" r="2.05" fill="#fff" stroke="#000" stroke-width="1.15"/>
<circle cx="612.4" cy="282.6" r="2.05" fill="#fff" stroke="#000" stroke-width="1.15"/>
<circle cx="611" cy="286" r="2.05" fill="#fff" stroke="#000" stroke-width="1.15"/>
<circle cx="614.6" cy="286.4" r="2.05" fill="#fff" stroke="#000" stroke-width="1.15"/>
<circle cx="612.4" cy="290.4" r="2.05" fill="#fff" stroke="#000" stroke-width="1.15"/></g>
<g><path d="M84 408.6V516.2H173.6" fill="none" stroke="#000" stroke-width="1.4" stroke-linecap="square"/>
<path d="M80.7 408.6H84M80.7 430.12H84M80.7 451.64H84M80.7 473.16H84M80.7 494.68H84M80.7 516.2H84M105.6 516.2V519.5M151 516.2V519.5" stroke="#000" stroke-width="1.4" fill="none"/>
<text transform="translate(79.8 412.01) scale(1 1.1)" font-size="7.9" text-anchor="end">10</text>
<text transform="translate(79.8 433.53) scale(1 1.1)" font-size="7.9" text-anchor="end">8</text>
<text transform="translate(79.8 455.05) scale(1 1.1)" font-size="7.9" text-anchor="end">6</text>
<text transform="translate(79.8 476.57) scale(1 1.1)" font-size="7.9" text-anchor="end">4</text>
<text transform="translate(79.8 498.09) scale(1 1.1)" font-size="7.9" text-anchor="end">2</text>
<text transform="translate(79.8 519.61) scale(1 1.1)" font-size="7.9" text-anchor="end">0</text>
<text transform="translate(108.2 526.4) rotate(-45)" font-size="8.2" text-anchor="end">CD4<tspan dy="-4.1" font-size="5.08">+</tspan></text>
<text transform="translate(153.6 526.4) rotate(-45)" font-size="8.2" text-anchor="end">CD8<tspan dy="-4.1" font-size="5.08">+</tspan></text>
<text transform="translate(70.12 463) rotate(-90) scale(1 1.07)" font-size="9.15" text-anchor="middle" xml:space="preserve">% CD45+</text>
<path d="M92.4 414H120.4" stroke="#000" stroke-width="1.4"/>
<text x="107.6" y="416.2" font-size="10" text-anchor="middle" class="st">****</text>
<path d="M91.6 424.4H105.6" stroke="#000" stroke-width="1.4"/>
<text x="98.6" y="426.6" font-size="10" text-anchor="middle" class="st">****</text>
<path d="M136.6 413.6H164.6" stroke="#000" stroke-width="1.4"/>
<text x="150.6" y="415.8" font-size="10" text-anchor="middle" class="st">***</text>
<path d="M136.2 424H150.4" stroke="#000" stroke-width="1.4"/>
<text x="143.3" y="426.2" font-size="10" text-anchor="middle" class="st">***</text>
<path d="M89 511H98.6" stroke="#000" stroke-width="1.1" fill="none"/>
<circle cx="90.6" cy="511" r="2.75"/>
<circle cx="92.6" cy="509.6" r="2.75"/>
<circle cx="95" cy="509.6" r="2.75"/>
<circle cx="97" cy="511" r="2.75"/>
<circle cx="91.8" cy="512.4" r="2.75"/>
<circle cx="94.2" cy="512" r="2.75"/>
<circle cx="96.2" cy="512.8" r="2.75"/>
<circle cx="93.6" cy="513.6" r="2.75"/>
<circle cx="93.6" cy="508" r="2.75"/>
<path d="M101 489.6H110.6M105.8 486V493.2M103.2 486H108.4M103.2 493.2H108.4" stroke="#000" stroke-width="1.1" fill="none"/>
<circle cx="106" cy="472" r="2.05" fill="#fff" stroke="#000" stroke-width="1.15"/>
<circle cx="103" cy="485" r="2.05" fill="#fff" stroke="#000" stroke-width="1.15"/>
<circle cx="109.4" cy="487" r="2.05" fill="#fff" stroke="#000" stroke-width="1.15"/>
<circle cx="105" cy="489" r="2.05" fill="#fff" stroke="#000" stroke-width="1.15"/>
<circle cx="107.4" cy="490.4" r="2.05" fill="#fff" stroke="#000" stroke-width="1.15"/>
<circle cx="103.6" cy="495" r="2.05" fill="#fff" stroke="#000" stroke-width="1.15"/>
<circle cx="107.6" cy="496" r="2.05" fill="#fff" stroke="#000" stroke-width="1.15"/>
<circle cx="105.6" cy="500.6" r="2.05" fill="#fff" stroke="#000" stroke-width="1.15"/>
<path d="M113 488.6H123M118 485V492M115.4 485H120.6M115.4 492H120.6" stroke="#000" stroke-width="1.1" fill="none"/>
<path d="M117.6 471.4L119.8 476H115.4Z" fill="#fff" stroke="#000" stroke-width="1.15" stroke-linejoin="miter"/>
<path d="M120.6 475.4L122.8 480H118.4Z" fill="#fff" stroke="#000" stroke-width="1.15" stroke-linejoin="miter"/>
<path d="M115.6 478.8L117.8 483.4H113.4Z" fill="#fff" stroke="#000" stroke-width="1.15" stroke-linejoin="miter"/>
<path d="M119 484.8L121.2 489.4H116.8Z" fill="#fff" stroke="#000" stroke-width="1.15" stroke-linejoin="miter"/>
<path d="M120.6 486L122.8 490.6H118.4Z" fill="#fff" stroke="#000" stroke-width="1.15" stroke-linejoin="miter"/>
<path d="M116 487.8L118.2 492.4H113.8Z" fill="#fff" stroke="#000" stroke-width="1.15" stroke-linejoin="miter"/>
<path d="M118 491.4L120.2 496H115.8Z" fill="#fff" stroke="#000" stroke-width="1.15" stroke-linejoin="miter"/>
<path d="M120.6 494.4L122.8 499H118.4Z" fill="#fff" stroke="#000" stroke-width="1.15" stroke-linejoin="miter"/>
<path d="M115 499.4L117.2 504H112.8Z" fill="#fff" stroke="#000" stroke-width="1.15" stroke-linejoin="miter"/>
<path d="M134.4 515.4H144.4" stroke="#000" stroke-width="1.1" fill="none"/>
<circle cx="135.6" cy="515.6" r="2.75"/>
<circle cx="137.2" cy="515" r="2.75"/>
<circle cx="138.8" cy="515.4" r="2.75"/>
<circle cx="140.4" cy="515" r="2.75"/>
<circle cx="142" cy="515.4" r="2.75"/>
<circle cx="143.2" cy="515.6" r="2.75"/>
<circle cx="139.4" cy="514.4" r="2.75"/>
<path d="M146.6 502H156.2M151.4 498V506M148.8 498H154M148.8 506H154" stroke="#000" stroke-width="1.1" fill="none"/>
<circle cx="154" cy="487" r="2.05" fill="#fff" stroke="#000" stroke-width="1.15"/>
<circle cx="148.6" cy="490.4" r="2.05" fill="#fff" stroke="#000" stroke-width="1.15"/>
<circle cx="153.6" cy="500.6" r="2.05" fill="#fff" stroke="#000" stroke-width="1.15"/>
<circle cx="149.6" cy="502" r="2.05" fill="#fff" stroke="#000" stroke-width="1.15"/>
<circle cx="149" cy="507.6" r="2.05" fill="#fff" stroke="#000" stroke-width="1.15"/>
<circle cx="153.6" cy="510" r="2.05" fill="#fff" stroke="#000" stroke-width="1.15"/>
<circle cx="151.6" cy="514" r="2.05" fill="#fff" stroke="#000" stroke-width="1.15"/>
<circle cx="150.6" cy="504.4" r="2.05" fill="#fff" stroke="#000" stroke-width="1.15"/>
<path d="M158.6 496H168.6M163.6 492V500M161 492H166.2M161 500H166.2" stroke="#000" stroke-width="1.1" fill="none"/>
<path d="M164 476.4L166.2 481H161.8Z" fill="#fff" stroke="#000" stroke-width="1.15" stroke-linejoin="miter"/>
<path d="M164 485L166.2 489.6H161.8Z" fill="#fff" stroke="#000" stroke-width="1.15" stroke-linejoin="miter"/>
<path d="M166.4 489.4L168.6 494H164.2Z" fill="#fff" stroke="#000" stroke-width="1.15" stroke-linejoin="miter"/>
<path d="M160.6 492.4L162.8 497H158.4Z" fill="#fff" stroke="#000" stroke-width="1.15" stroke-linejoin="miter"/>
<path d="M163 495.4L165.2 500H160.8Z" fill="#fff" stroke="#000" stroke-width="1.15" stroke-linejoin="miter"/>
<path d="M166 499.4L168.2 504H163.8Z" fill="#fff" stroke="#000" stroke-width="1.15" stroke-linejoin="miter"/>
<path d="M161 501.4L163.2 506H158.8Z" fill="#fff" stroke="#000" stroke-width="1.15" stroke-linejoin="miter"/>
<path d="M166 503.4L168.2 508H163.8Z" fill="#fff" stroke="#000" stroke-width="1.15" stroke-linejoin="miter"/>
<path d="M163.6 507.4L165.8 512H161.4Z" fill="#fff" stroke="#000" stroke-width="1.15" stroke-linejoin="miter"/></g>
<g><path d="M227.6 408.6V516H271.6" fill="none" stroke="#000" stroke-width="1.4" stroke-linecap="square"/>
<path d="M224.3 408.6H227.6M224.3 430.08H227.6M224.3 451.56H227.6M224.3 473.04H227.6M224.3 494.52H227.6M224.3 516H227.6M249 516V519.3" stroke="#000" stroke-width="1.4" fill="none"/>
<text transform="translate(223.4 412.01) scale(1 1.1)" font-size="7.9" text-anchor="end">5</text>
<text transform="translate(223.4 433.49) scale(1 1.1)" font-size="7.9" text-anchor="end">4</text>
<text transform="translate(223.4 454.97) scale(1 1.1)" font-size="7.9" text-anchor="end">3</text>
<text transform="translate(223.4 476.45) scale(1 1.1)" font-size="7.9" text-anchor="end">2</text>
<text transform="translate(223.4 497.93) scale(1 1.1)" font-size="7.9" text-anchor="end">1</text>
<text transform="translate(223.4 519.41) scale(1 1.1)" font-size="7.9" text-anchor="end">0</text>
<text transform="translate(215.32 461) rotate(-90) scale(1 1.07)" font-size="9.15" text-anchor="middle" xml:space="preserve">CD8+/Treg</text>
<path d="M235.6 413.4H263.6" stroke="#000" stroke-width="1.4"/>
<text x="249.6" y="415.6" font-size="10" text-anchor="middle" class="st">**</text>
<path d="M235.6 422.4H247" stroke="#000" stroke-width="1.4"/>
<text x="241.3" y="424.6" font-size="10" text-anchor="middle" class="st">*</text>
<path d="M232.6 508H242.2" stroke="#000" stroke-width="1.1" fill="none"/>
<circle cx="237" cy="492.4" r="2.75"/>
<circle cx="236" cy="507" r="2.75"/>
<circle cx="239" cy="508" r="2.75"/>
<circle cx="235" cy="509.4" r="2.75"/>
<circle cx="237.6" cy="510" r="2.75"/>
<circle cx="240" cy="509" r="2.75"/>
<circle cx="237" cy="512" r="2.75"/>
<circle cx="238.6" cy="511" r="2.75"/>
<path d="M244 495.4H254M249 491V500M246.4 491H251.6M246.4 500H251.6" stroke="#000" stroke-width="1.1" fill="none"/>
<circle cx="249" cy="475.4" r="2.05" fill="#fff" stroke="#000" stroke-width="1.15"/>
<circle cx="249" cy="488" r="2.05" fill="#fff" stroke="#000" stroke-width="1.15"/>
<circle cx="251.6" cy="490" r="2.05" fill="#fff" stroke="#000" stroke-width="1.15"/>
<circle cx="247.4" cy="497" r="2.05" fill="#fff" stroke="#000" stroke-width="1.15"/>
<circle cx="250" cy="499" r="2.05" fill="#fff" stroke="#000" stroke-width="1.15"/>
<circle cx="247.4" cy="505.4" r="2.05" fill="#fff" stroke="#000" stroke-width="1.15"/>
<circle cx="251.4" cy="505.4" r="2.05" fill="#fff" stroke="#000" stroke-width="1.15"/>
<circle cx="249" cy="511.6" r="2.05" fill="#fff" stroke="#000" stroke-width="1.15"/>
<path d="M256 487.4H266M261 482V493M258.4 482H263.6M258.4 493H263.6" stroke="#000" stroke-width="1.1" fill="none"/>
<path d="M261 449.4L263.2 454H258.8Z" fill="#fff" stroke="#000" stroke-width="1.15" stroke-linejoin="miter"/>
<path d="M261 466.4L263.2 471H258.8Z" fill="#fff" stroke="#000" stroke-width="1.15" stroke-linejoin="miter"/>
<path d="M261 474.8L263.2 479.4H258.8Z" fill="#fff" stroke="#000" stroke-width="1.15" stroke-linejoin="miter"/>
<path d="M259 483.4L261.2 488H256.8Z" fill="#fff" stroke="#000" stroke-width="1.15" stroke-linejoin="miter"/>
<path d="M263.4 484.8L265.6 489.4H261.2Z" fill="#fff" stroke="#000" stroke-width="1.15" stroke-linejoin="miter"/>
<path d="M261 486.8L263.2 491.4H258.8Z" fill="#fff" stroke="#000" stroke-width="1.15" stroke-linejoin="miter"/>
<path d="M263.4 491.8L265.6 496.4H261.2Z" fill="#fff" stroke="#000" stroke-width="1.15" stroke-linejoin="miter"/>
<path d="M259 496.4L261.2 501H256.8Z" fill="#fff" stroke="#000" stroke-width="1.15" stroke-linejoin="miter"/>
<path d="M261 498.4L263.2 503H258.8Z" fill="#fff" stroke="#000" stroke-width="1.15" stroke-linejoin="miter"/>
<path d="M261 507.4L263.2 512H258.8Z" fill="#fff" stroke="#000" stroke-width="1.15" stroke-linejoin="miter"/></g>
<g><path d="M331.6 408.6V516H376" fill="none" stroke="#000" stroke-width="1.4" stroke-linecap="square"/>
<path d="M328.3 408.6H331.6M328.3 430.08H331.6M328.3 451.56H331.6M328.3 473.04H331.6M328.3 494.52H331.6M328.3 516H331.6M353.6 516V519.3" stroke="#000" stroke-width="1.4" fill="none"/>
<text transform="translate(327.4 412.01) scale(1 1.1)" font-size="7.9" text-anchor="end">100</text>
<text transform="translate(327.4 433.49) scale(1 1.1)" font-size="7.9" text-anchor="end">80</text>
<text transform="translate(327.4 454.97) scale(1 1.1)" font-size="7.9" text-anchor="end">60</text>
<text transform="translate(327.4 476.45) scale(1 1.1)" font-size="7.9" text-anchor="end">40</text>
<text transform="translate(327.4 497.93) scale(1 1.1)" font-size="7.9" text-anchor="end">20</text>
<text transform="translate(327.4 519.41) scale(1 1.1)" font-size="7.9" text-anchor="end">0</text>
<text transform="translate(356.2 526.2) rotate(-45)" font-size="8.2" text-anchor="end">Ki-67</text>
<text transform="translate(313.32 463) rotate(-90) scale(1 1.07)" font-size="9.15" text-anchor="middle" xml:space="preserve">% CD8<tspan dy="-3.39" font-size="6.04">+</tspan></text>
<path d="M339.4 412.6H368" stroke="#000" stroke-width="1.4"/>
<text x="353.7" y="414.8" font-size="10" text-anchor="middle" class="st">***</text>
<path d="M339.4 421.6H351" stroke="#000" stroke-width="1.4"/>
<text x="345.2" y="423.8" font-size="10" text-anchor="middle" class="st">***</text>
<path d="M337 492.4H347M342 488.4V496.4M339.4 488.4H344.6M339.4 496.4H344.6" stroke="#000" stroke-width="1.1" fill="none"/>
<circle cx="341.4" cy="473" r="2.75"/>
<circle cx="344" cy="482" r="2.75"/>
<circle cx="338.6" cy="484.4" r="2.75"/>
<circle cx="338.6" cy="492" r="2.75"/>
<circle cx="344" cy="496.4" r="2.75"/>
<circle cx="339.6" cy="503.4" r="2.75"/>
<circle cx="341.6" cy="505" r="2.75"/>
<circle cx="343.6" cy="504.4" r="2.75"/>
<path d="M348.6 462.4H358.6M353.6 459V466M351 459H356.2M351 466H356.2" stroke="#000" stroke-width="1.1" fill="none"/>
<circle cx="355.4" cy="452.4" r="2.05" fill="#fff" stroke="#000" stroke-width="1.15"/>
<circle cx="351.6" cy="455" r="2.05" fill="#fff" stroke="#000" stroke-width="1.15"/>
<circle cx="356" cy="458" r="2.05" fill="#fff" stroke="#000" stroke-width="1.15"/>
<circle cx="348.4" cy="463.6" r="2.05" fill="#fff" stroke="#000" stroke-width="1.15"/>
<circle cx="351" cy="466" r="2.05" fill="#fff" stroke="#000" stroke-width="1.15"/>
<circle cx="356" cy="470.4" r="2.05" fill="#fff" stroke="#000" stroke-width="1.15"/>
<circle cx="353.4" cy="480.6" r="2.05" fill="#fff" stroke="#000" stroke-width="1.15"/>
<path d="M360.4 462.6H370.4M365.4 459V466.4M362.8 459H368M362.8 466.4H368" stroke="#000" stroke-width="1.1" fill="none"/>
<path d="M365.4 436L367.6 440.6H363.2Z" fill="#fff" stroke="#000" stroke-width="1.15" stroke-linejoin="miter"/>
<path d="M365.4 451.4L367.6 456H363.2Z" fill="#fff" stroke="#000" stroke-width="1.15" stroke-linejoin="miter"/>
<path d="M367.6 457.4L369.8 462H365.4Z" fill="#fff" stroke="#000" stroke-width="1.15" stroke-linejoin="miter"/>
<path d="M363.6 459L365.8 463.6H361.4Z" fill="#fff" stroke="#000" stroke-width="1.15" stroke-linejoin="miter"/>
<path d="M366 460.4L368.2 465H363.8Z" fill="#fff" stroke="#000" stroke-width="1.15" stroke-linejoin="miter"/>
<path d="M363 464.4L365.2 469H360.8Z" fill="#fff" stroke="#000" stroke-width="1.15" stroke-linejoin="miter"/>
<path d="M368 466.8L370.2 471.4H365.8Z" fill="#fff" stroke="#000" stroke-width="1.15" stroke-linejoin="miter"/>
<path d="M368 475.4L370.2 480H365.8Z" fill="#fff" stroke="#000" stroke-width="1.15" stroke-linejoin="miter"/>
<path d="M363 476.8L365.2 481.4H360.8Z" fill="#fff" stroke="#000" stroke-width="1.15" stroke-linejoin="miter"/></g>
<g><path d="M436.6 408.6V516H527" fill="none" stroke="#000" stroke-width="1.4" stroke-linecap="square"/>
<path d="M433.3 408.6H436.6M433.3 430.08H436.6M433.3 451.56H436.6M433.3 473.04H436.6M433.3 494.52H436.6M433.3 516H436.6M458.4 516V519.3M504.4 516V519.3" stroke="#000" stroke-width="1.4" fill="none"/>
<text transform="translate(432.4 412.01) scale(1 1.1)" font-size="7.9" text-anchor="end">100</text>
<text transform="translate(432.4 433.49) scale(1 1.1)" font-size="7.9" text-anchor="end">80</text>
<text transform="translate(432.4 454.97) scale(1 1.1)" font-size="7.9" text-anchor="end">60</text>
<text transform="translate(432.4 476.45) scale(1 1.1)" font-size="7.9" text-anchor="end">40</text>
<text transform="translate(432.4 497.93) scale(1 1.1)" font-size="7.9" text-anchor="end">20</text>
<text transform="translate(432.4 519.41) scale(1 1.1)" font-size="7.9" text-anchor="end">0</text>
<text transform="translate(461 526.2) rotate(-45)" font-size="8.2" text-anchor="end">PD1<tspan dy="-4.1" font-size="5.08">+</tspan></text>
<text transform="translate(507 526.2) rotate(-45)" font-size="8.2" text-anchor="end">PD1<tspan dy="-4.1" font-size="5.08">+</tspan><tspan dy="4.1">TIM3</tspan><tspan dy="-4.1" font-size="5.08">+</tspan></text>
<text transform="translate(418.12 463) rotate(-90) scale(1 1.07)" font-size="9.15" text-anchor="middle" xml:space="preserve">% CD8<tspan dy="-3.39" font-size="6.04">+</tspan></text>
<path d="M444 394.4H472.6" stroke="#000" stroke-width="1.4"/>
<text x="458.3" y="396.6" font-size="10" text-anchor="middle" class="st">***</text>
<path d="M444 405H458" stroke="#000" stroke-width="1.4"/>
<text x="451" y="407.2" font-size="10" text-anchor="middle" class="st">***</text>
<path d="M488.6 394H517" stroke="#000" stroke-width="1.4"/>
<text x="502.8" y="396.2" font-size="10" text-anchor="middle" class="st">****</text>
<path d="M486.6 405H500.6" stroke="#000" stroke-width="1.4"/>
<text x="493.6" y="407.2" font-size="10" text-anchor="middle" class="st">**</text>
<path d="M504.4 405H518.4" stroke="#000" stroke-width="1.4"/>
<text x="511.4" y="407.2" font-size="10" text-anchor="middle" class="st">***</text>
<path d="M441.4 458H451.4M446.4 450.6V465.6M443.8 450.6H449M443.8 465.6H449" stroke="#000" stroke-width="1.1" fill="none"/>
<circle cx="449" cy="426.4" r="2.75"/>
<circle cx="444" cy="431.4" r="2.75"/>
<circle cx="444" cy="449.6" r="2.75"/>
<circle cx="449.4" cy="450.4" r="2.75"/>
<circle cx="443" cy="475.4" r="2.75"/>
<circle cx="450" cy="474" r="2.75"/>
<circle cx="447" cy="477" r="2.75"/>
<circle cx="445" cy="480.6" r="2.75"/>
<path d="M453.8 418.4H463.4" stroke="#000" stroke-width="1.1" fill="none"/>
<circle cx="457" cy="412.4" r="2.05" fill="#fff" stroke="#000" stroke-width="1.15"/>
<circle cx="460.6" cy="412.4" r="2.05" fill="#fff" stroke="#000" stroke-width="1.15"/>
<circle cx="455.4" cy="417" r="2.05" fill="#fff" stroke="#000" stroke-width="1.15"/>
<circle cx="458.6" cy="419" r="2.05" fill="#fff" stroke="#000" stroke-width="1.15"/>
<circle cx="462" cy="418" r="2.05" fill="#fff" stroke="#000" stroke-width="1.15"/>
<circle cx="457.6" cy="420.4" r="2.05" fill="#fff" stroke="#000" stroke-width="1.15"/>
<circle cx="460" cy="423" r="2.05" fill="#fff" stroke="#000" stroke-width="1.15"/>
<circle cx="458.6" cy="429.6" r="2.05" fill="#fff" stroke="#000" stroke-width="1.15"/>
<path d="M466.2 419H475.8" stroke="#000" stroke-width="1.1" fill="none"/>
<path d="M470 414.4L472.2 419H467.8Z" fill="#fff" stroke="#000" stroke-width="1.15" stroke-linejoin="miter"/>
<path d="M471.8 413.8L474 418.4H469.6Z" fill="#fff" stroke="#000" stroke-width="1.15" stroke-linejoin="miter"/>
<path d="M469.4 415.8L471.6 420.4H467.2Z" fill="#fff" stroke="#000" stroke-width="1.15" stroke-linejoin="miter"/>
<path d="M472.6 415.8L474.8 420.4H470.4Z" fill="#fff" stroke="#000" stroke-width="1.15" stroke-linejoin="miter"/>
<path d="M471 415.2L473.2 419.8H468.8Z" fill="#fff" stroke="#000" stroke-width="1.15" stroke-linejoin="miter"/>
<path d="M471 416.6L473.2 421.2H468.8Z" fill="#fff" stroke="#000" stroke-width="1.15" stroke-linejoin="miter"/>
<path d="M471 433L473.2 437.6H468.8Z" fill="#fff" stroke="#000" stroke-width="1.15" stroke-linejoin="miter"/>
<path d="M488 480.6H498M493 473V488.4M490.4 473H495.6M490.4 488.4H495.6" stroke="#000" stroke-width="1.1" fill="none"/>
<circle cx="490" cy="446.6" r="2.75"/>
<circle cx="495.4" cy="449.6" r="2.75"/>
<circle cx="490.4" cy="483.6" r="2.75"/>
<circle cx="495.6" cy="482.4" r="2.75"/>
<circle cx="492.4" cy="491" r="2.75"/>
<circle cx="490.4" cy="494.4" r="2.75"/>
<circle cx="492.4" cy="498" r="2.75"/>
<circle cx="494.6" cy="498.6" r="2.75"/>
<path d="M499 459H509M504 454V464M501.4 454H506.6M501.4 464H506.6" stroke="#000" stroke-width="1.1" fill="none"/>
<circle cx="507" cy="441.6" r="2.05" fill="#fff" stroke="#000" stroke-width="1.15"/>
<circle cx="502" cy="445.4" r="2.05" fill="#fff" stroke="#000" stroke-width="1.15"/>
<circle cx="505" cy="453" r="2.05" fill="#fff" stroke="#000" stroke-width="1.15"/>
<circle cx="507.6" cy="455.4" r="2.05" fill="#fff" stroke="#000" stroke-width="1.15"/>
<circle cx="499.6" cy="460" r="2.05" fill="#fff" stroke="#000" stroke-width="1.15"/>
<circle cx="502.8" cy="460" r="2.05" fill="#fff" stroke="#000" stroke-width="1.15"/>
<circle cx="502" cy="463.4" r="2.05" fill="#fff" stroke="#000" stroke-width="1.15"/>
<circle cx="507.4" cy="469.4" r="2.05" fill="#fff" stroke="#000" stroke-width="1.15"/>
<circle cx="504.6" cy="476" r="2.05" fill="#fff" stroke="#000" stroke-width="1.15"/>
<path d="M512 444.4H521.6" stroke="#000" stroke-width="1.1" fill="none"/>
<path d="M514.6 433.8L516.8 438.4H512.4Z" fill="#fff" stroke="#000" stroke-width="1.15" stroke-linejoin="miter"/>
<path d="M518 436.4L520.2 441H515.8Z" fill="#fff" stroke="#000" stroke-width="1.15" stroke-linejoin="miter"/>
<path d="M516.6 439L518.8 443.6H514.4Z" fill="#fff" stroke="#000" stroke-width="1.15" stroke-linejoin="miter"/>
<path d="M513.6 441L515.8 445.6H511.4Z" fill="#fff" stroke="#000" stroke-width="1.15" stroke-linejoin="miter"/>
<path d="M519 441L521.2 445.6H516.8Z" fill="#fff" stroke="#000" stroke-width="1.15" stroke-linejoin="miter"/>
<path d="M515 443.4L517.2 448H512.8Z" fill="#fff" stroke="#000" stroke-width="1.15" stroke-linejoin="miter"/>
<path d="M517.6 444.4L519.8 449H515.4Z" fill="#fff" stroke="#000" stroke-width="1.15" stroke-linejoin="miter"/>
<path d="M520 443.4L522.2 448H517.8Z" fill="#fff" stroke="#000" stroke-width="1.15" stroke-linejoin="miter"/>
<path d="M517 457.4L519.2 462H514.8Z" fill="#fff" stroke="#000" stroke-width="1.15" stroke-linejoin="miter"/></g>
<g><path d="M590.6 408.4V516H634.6" fill="none" stroke="#000" stroke-width="1.4" stroke-linecap="square"/>
<path d="M587.3 408.4H590.6M587.3 429.92H590.6M587.3 451.44H590.6M587.3 472.96H590.6M587.3 494.48H590.6M587.3 516H590.6M612 516V519.3" stroke="#000" stroke-width="1.4" fill="none"/>
<text transform="translate(586.4 411.81) scale(1 1.1)" font-size="7.9" text-anchor="end">1.0</text>
<text transform="translate(586.4 433.33) scale(1 1.1)" font-size="7.9" text-anchor="end">0.8</text>
<text transform="translate(586.4 454.85) scale(1 1.1)" font-size="7.9" text-anchor="end">0.6</text>
<text transform="translate(586.4 476.37) scale(1 1.1)" font-size="7.9" text-anchor="end">0.4</text>
<text transform="translate(586.4 497.89) scale(1 1.1)" font-size="7.9" text-anchor="end">0.2</text>
<text transform="translate(586.4 519.41) scale(1 1.1)" font-size="7.9" text-anchor="end">0.0</text>
<text transform="translate(614.6 526.2) rotate(-45)" font-size="8.2" text-anchor="end">CD8<tspan dy="-4.1" font-size="5.08">+</tspan><tspan dy="4.1">PD1</tspan><tspan dy="-4.1" font-size="5.08">+</tspan></text>
<text transform="translate(569.72 463) rotate(-90) scale(1 1.07)" font-size="9.15" text-anchor="middle" xml:space="preserve">% CD45<tspan dy="-3.39" font-size="6.04">+</tspan></text>
<path d="M598 412H627" stroke="#000" stroke-width="1.4"/>
<text x="612.5" y="414.2" font-size="10" text-anchor="middle" class="st">**</text>
<path d="M597.4 419.4H611.6" stroke="#000" stroke-width="1.4"/>
<text x="604.5" y="421.6" font-size="10" text-anchor="middle" class="st">*</text>
<path d="M614.6 419.4H629" stroke="#000" stroke-width="1.4"/>
<text x="621.8" y="421.6" font-size="10" text-anchor="middle" class="st">*</text>
<path d="M595 509.2H604.6" stroke="#000" stroke-width="1.1" fill="none"/>
<circle cx="596.6" cy="508" r="2.75"/>
<circle cx="598.4" cy="507" r="2.75"/>
<circle cx="600.4" cy="507.2" r="2.75"/>
<circle cx="602.4" cy="507.6" r="2.75"/>
<circle cx="604" cy="508.4" r="2.75"/>
<circle cx="597.6" cy="510" r="2.75"/>
<circle cx="599.6" cy="510.6" r="2.75"/>
<circle cx="601.6" cy="510" r="2.75"/>
<circle cx="598" cy="512.2" r="2.75"/>
<circle cx="601.2" cy="512.2" r="2.75"/>
<circle cx="599.6" cy="512.8" r="2.75"/>
<path d="M607.2 505.6H616.8" stroke="#000" stroke-width="1.1" fill="none"/>
<circle cx="610.4" cy="502" r="2.05" fill="#fff" stroke="#000" stroke-width="1.15"/>
<circle cx="614" cy="502.4" r="2.05" fill="#fff" stroke="#000" stroke-width="1.15"/>
<circle cx="609" cy="505" r="2.05" fill="#fff" stroke="#000" stroke-width="1.15"/>
<circle cx="612.4" cy="505.6" r="2.05" fill="#fff" stroke="#000" stroke-width="1.15"/>
<circle cx="615.4" cy="506" r="2.05" fill="#fff" stroke="#000" stroke-width="1.15"/>
<circle cx="610" cy="508.4" r="2.05" fill="#fff" stroke="#000" stroke-width="1.15"/>
<circle cx="613.4" cy="509" r="2.05" fill="#fff" stroke="#000" stroke-width="1.15"/>
<circle cx="611.6" cy="510.6" r="2.05" fill="#fff" stroke="#000" stroke-width="1.15"/>
<path d="M619 500H629M624 497V503M621.4 497H626.6M621.4 503H626.6" stroke="#000" stroke-width="1.1" fill="none"/>
<path d="M624 487.4L626.2 492H621.8Z" fill="#fff" stroke="#000" stroke-width="1.15" stroke-linejoin="miter"/>
<path d="M621.6 491.4L623.8 496H619.4Z" fill="#fff" stroke="#000" stroke-width="1.15" stroke-linejoin="miter"/>
<path d="M626.6 495.4L628.8 500H624.4Z" fill="#fff" stroke="#000" stroke-width="1.15" stroke-linejoin="miter"/>
<path d="M623 498.4L625.2 503H620.8Z" fill="#fff" stroke="#000" stroke-width="1.15" stroke-linejoin="miter"/>
<path d="M625.6 501.4L627.8 506H623.4Z" fill="#fff" stroke="#000" stroke-width="1.15" stroke-linejoin="miter"/>
<path d="M622.4 503L624.6 507.6H620.2Z" fill="#fff" stroke="#000" stroke-width="1.15" stroke-linejoin="miter"/>
<path d="M625 505.4L627.2 510H622.8Z" fill="#fff" stroke="#000" stroke-width="1.15" stroke-linejoin="miter"/>
<path d="M623.6 504L625.8 508.6H621.4Z" fill="#fff" stroke="#000" stroke-width="1.15" stroke-linejoin="miter"/></g>
<g><path d="M84 605V712.4H148.6" fill="none" stroke="#000" stroke-width="1.4" stroke-linecap="square"/>
<path d="M80.7 605H84M80.7 626.48H84M80.7 647.96H84M80.7 669.44H84M80.7 690.92H84M80.7 712.4H84M99.4 712.4V715.7M132.4 712.4V715.7" stroke="#000" stroke-width="1.4" fill="none"/>
<text transform="translate(79.8 608.41) scale(1 1.1)" font-size="7.9" text-anchor="end">10</text>
<text transform="translate(79.8 629.89) scale(1 1.1)" font-size="7.9" text-anchor="end">8</text>
<text transform="translate(79.8 651.37) scale(1 1.1)" font-size="7.9" text-anchor="end">6</text>
<text transform="translate(79.8 672.85) scale(1 1.1)" font-size="7.9" text-anchor="end">4</text>
<text transform="translate(79.8 694.33) scale(1 1.1)" font-size="7.9" text-anchor="end">2</text>
<text transform="translate(79.8 715.81) scale(1 1.1)" font-size="7.9" text-anchor="end">0</text>
<text transform="translate(102 722.6) rotate(-45)" font-size="8.2" text-anchor="end">TAM</text>
<text transform="translate(135 722.6) rotate(-45)" font-size="8.2" text-anchor="end">DC</text>
<text transform="translate(70.32 659) rotate(-90) scale(1 1.07)" font-size="9.15" text-anchor="middle" xml:space="preserve">% CD45<tspan dy="-3.39" font-size="6.04">+</tspan></text>
<path d="M89 639H98.6M93.8 635V643.4M91.2 635H96.4M91.2 643.4H96.4" stroke="#000" stroke-width="1.1" fill="none"/>
<circle cx="96.4" cy="624" r="2.75"/>
<circle cx="91.4" cy="629.4" r="2.75"/>
<circle cx="94.6" cy="640" r="2.75"/>
<circle cx="92" cy="643" r="2.75"/>
<circle cx="95.4" cy="645" r="2.75"/>
<circle cx="94" cy="649" r="2.75"/>
<circle cx="93" cy="646.6" r="2.75"/>
<path d="M100.6 649H110.6M105.6 642V656M103 642H108.2M103 656H108.2" stroke="#000" stroke-width="1.1" fill="none"/>
<circle cx="105.6" cy="623.6" r="2.05" fill="#fff" stroke="#000" stroke-width="1.15"/>
<circle cx="103" cy="635.4" r="2.05" fill="#fff" stroke="#000" stroke-width="1.15"/>
<circle cx="108" cy="637" r="2.05" fill="#fff" stroke="#000" stroke-width="1.15"/>
<circle cx="108" cy="649.4" r="2.05" fill="#fff" stroke="#000" stroke-width="1.15"/>
<circle cx="103" cy="655" r="2.05" fill="#fff" stroke="#000" stroke-width="1.15"/>
<circle cx="105.6" cy="665.4" r="2.05" fill="#fff" stroke="#000" stroke-width="1.15"/>
<circle cx="105.6" cy="678.6" r="2.05" fill="#fff" stroke="#000" stroke-width="1.15"/>
<path d="M122 666H132M127 662V670M124.4 662H129.6M124.4 670H129.6" stroke="#000" stroke-width="1.1" fill="none"/>
<circle cx="126.6" cy="646.6" r="2.75"/>
<circle cx="126.6" cy="661" r="2.75"/>
<circle cx="129" cy="665" r="2.75"/>
<circle cx="125" cy="666.6" r="2.75"/>
<circle cx="127" cy="669" r="2.75"/>
<circle cx="126.6" cy="683" r="2.75"/>
<path d="M133.6 671.4H143.6M138.6 668V675M136 668H141.2M136 675H141.2" stroke="#000" stroke-width="1.1" fill="none"/>
<circle cx="136" cy="655.4" r="2.05" fill="#fff" stroke="#000" stroke-width="1.15"/>
<circle cx="141" cy="659.4" r="2.05" fill="#fff" stroke="#000" stroke-width="1.15"/>
<circle cx="138.4" cy="666.6" r="2.05" fill="#fff" stroke="#000" stroke-width="1.15"/>
<circle cx="141" cy="674" r="2.05" fill="#fff" stroke="#000" stroke-width="1.15"/>
<circle cx="136.6" cy="675.4" r="2.05" fill="#fff" stroke="#000" stroke-width="1.15"/>
<circle cx="138.6" cy="677.4" r="2.05" fill="#fff" stroke="#000" stroke-width="1.15"/>
<circle cx="138.6" cy="688.4" r="2.05" fill="#fff" stroke="#000" stroke-width="1.15"/></g>
<g><path d="M227.4 605V712.4H259.6" fill="none" stroke="#000" stroke-width="1.4" stroke-linecap="square"/>
<path d="M224.1 605H227.4M224.1 626.48H227.4M224.1 647.96H227.4M224.1 669.44H227.4M224.1 690.92H227.4M224.1 712.4H227.4M243.4 712.4V715.7" stroke="#000" stroke-width="1.4" fill="none"/>
<text transform="translate(223.2 608.41) scale(1 1.1)" font-size="7.9" text-anchor="end">100</text>
<text transform="translate(223.2 629.89) scale(1 1.1)" font-size="7.9" text-anchor="end">80</text>
<text transform="translate(223.2 651.37) scale(1 1.1)" font-size="7.9" text-anchor="end">60</text>
<text transform="translate(223.2 672.85) scale(1 1.1)" font-size="7.9" text-anchor="end">40</text>
<text transform="translate(223.2 694.33) scale(1 1.1)" font-size="7.9" text-anchor="end">20</text>
<text transform="translate(223.2 715.81) scale(1 1.1)" font-size="7.9" text-anchor="end">0</text>
<text transform="translate(246 722.6) rotate(-45)" font-size="8.2" text-anchor="end">MDSC</text>
<text transform="translate(210.32 659) rotate(-90) scale(1 1.07)" font-size="9.15" text-anchor="middle" xml:space="preserve">% CD45<tspan dy="-3.39" font-size="6.04">+</tspan></text>
<path d="M236 609.6H252" stroke="#000" stroke-width="1.4"/>
<text x="244" y="610.7" font-size="10" text-anchor="middle" class="st">*</text>
<path d="M233 671.4H243M238 668V675M235.4 668H240.6M235.4 675H240.6" stroke="#000" stroke-width="1.1" fill="none"/>
<circle cx="237.4" cy="659.6" r="2.75"/>
<circle cx="240" cy="666.4" r="2.75"/>
<circle cx="232.6" cy="669.6" r="2.75"/>
<circle cx="235" cy="673.6" r="2.75"/>
<circle cx="240" cy="677" r="2.75"/>
<circle cx="237.4" cy="684" r="2.75"/>
<circle cx="236.6" cy="671" r="2.75"/>
<path d="M244.4 683H254.4M249.4 680V686M246.8 680H252M246.8 686H252" stroke="#000" stroke-width="1.1" fill="none"/>
<circle cx="247.4" cy="675" r="2.05" fill="#fff" stroke="#000" stroke-width="1.15"/>
<circle cx="252.4" cy="674.4" r="2.05" fill="#fff" stroke="#000" stroke-width="1.15"/>
<circle cx="245.6" cy="680.6" r="2.05" fill="#fff" stroke="#000" stroke-width="1.15"/>
<circle cx="253" cy="681" r="2.05" fill="#fff" stroke="#000" stroke-width="1.15"/>
<circle cx="248.6" cy="685.6" r="2.05" fill="#fff" stroke="#000" stroke-width="1.15"/>
<circle cx="251" cy="686.4" r="2.05" fill="#fff" stroke="#000" stroke-width="1.15"/>
<circle cx="249.4" cy="694.6" r="2.05" fill="#fff" stroke="#000" stroke-width="1.15"/>
<circle cx="249" cy="682" r="2.05" fill="#fff" stroke="#000" stroke-width="1.15"/></g>
<g><path d="M435.6 605V712.4H500.4" fill="none" stroke="#000" stroke-width="1.4" stroke-linecap="square"/>
<path d="M432.3 605H435.6M432.3 626.48H435.6M432.3 647.96H435.6M432.3 669.44H435.6M432.3 690.92H435.6M432.3 712.4H435.6M451.4 712.4V715.7M484.4 712.4V715.7" stroke="#000" stroke-width="1.4" fill="none"/>
<text transform="translate(431.4 608.41) scale(1 1.1)" font-size="7.9" text-anchor="end">100</text>
<text transform="translate(431.4 629.89) scale(1 1.1)" font-size="7.9" text-anchor="end">80</text>
<text transform="translate(431.4 651.37) scale(1 1.1)" font-size="7.9" text-anchor="end">60</text>
<text transform="translate(431.4 672.85) scale(1 1.1)" font-size="7.9" text-anchor="end">40</text>
<text transform="translate(431.4 694.33) scale(1 1.1)" font-size="7.9" text-anchor="end">20</text>
<text transform="translate(431.4 715.81) scale(1 1.1)" font-size="7.9" text-anchor="end">0</text>
<text transform="translate(454 722.6) rotate(-45)" font-size="8.2" text-anchor="end">TAM</text>
<text transform="translate(487 722.6) rotate(-45)" font-size="8.2" text-anchor="end">MDSC</text>
<text transform="translate(413.72 659) rotate(-90) scale(1 1.07)" font-size="9.15" text-anchor="middle" xml:space="preserve">PD-L1 Positive (%)</text>
<path d="M444 609H459.6" stroke="#000" stroke-width="1.4"/>
<text x="451.8" y="610.1" font-size="10" text-anchor="middle" class="st">*</text>
<path d="M441 648.4H450.6M445.8 644.4V652.4M443.2 644.4H448.4M443.2 652.4H448.4" stroke="#000" stroke-width="1.1" fill="none"/>
<circle cx="445.6" cy="632" r="2.75"/>
<circle cx="443" cy="635.6" r="2.75"/>
<circle cx="448" cy="642" r="2.75"/>
<circle cx="445.6" cy="652" r="2.75"/>
<circle cx="447.6" cy="653" r="2.75"/>
<circle cx="444" cy="654.4" r="2.75"/>
<circle cx="446" cy="656" r="2.75"/>
<circle cx="445.6" cy="664.4" r="2.75"/>
<path d="M452.6 632.4H462.6M457.6 628.4V636.4M455 628.4H460.2M455 636.4H460.2" stroke="#000" stroke-width="1.1" fill="none"/>
<circle cx="457.4" cy="619.4" r="2.05" fill="#fff" stroke="#000" stroke-width="1.15"/>
<circle cx="460" cy="621.6" r="2.05" fill="#fff" stroke="#000" stroke-width="1.15"/>
<circle cx="455" cy="627" r="2.05" fill="#fff" stroke="#000" stroke-width="1.15"/>
<circle cx="455" cy="633" r="2.05" fill="#fff" stroke="#000" stroke-width="1.15"/>
<circle cx="460" cy="636.4" r="2.05" fill="#fff" stroke="#000" stroke-width="1.15"/>
<circle cx="459.6" cy="644.4" r="2.05" fill="#fff" stroke="#000" stroke-width="1.15"/>
<circle cx="455" cy="646" r="2.05" fill="#fff" stroke="#000" stroke-width="1.15"/>
<path d="M474 658.6H483.6M478.8 655V662M476.2 655H481.4M476.2 662H481.4" stroke="#000" stroke-width="1.1" fill="none"/>
<circle cx="476" cy="638" r="2.75"/>
<circle cx="481" cy="643.6" r="2.75"/>
<circle cx="478.6" cy="655" r="2.75"/>
<circle cx="476" cy="659.4" r="2.75"/>
<circle cx="481" cy="662.4" r="2.75"/>
<circle cx="476.6" cy="667.6" r="2.75"/>
<circle cx="480.6" cy="668.6" r="2.75"/>
<circle cx="478.6" cy="671" r="2.75"/>
<path d="M486 649.4H495.6M490.8 645V654M488.2 645H493.4M488.2 654H493.4" stroke="#000" stroke-width="1.1" fill="none"/>
<circle cx="490.6" cy="630.4" r="2.05" fill="#fff" stroke="#000" stroke-width="1.15"/>
<circle cx="490.6" cy="639.4" r="2.05" fill="#fff" stroke="#000" stroke-width="1.15"/>
<circle cx="493" cy="646" r="2.05" fill="#fff" stroke="#000" stroke-width="1.15"/>
<circle cx="488" cy="648.6" r="2.05" fill="#fff" stroke="#000" stroke-width="1.15"/>
<circle cx="493" cy="659.4" r="2.05" fill="#fff" stroke="#000" stroke-width="1.15"/>
<circle cx="489" cy="659" r="2.05" fill="#fff" stroke="#000" stroke-width="1.15"/>
<circle cx="487.6" cy="665.6" r="2.05" fill="#fff" stroke="#000" stroke-width="1.15"/></g>
<g><path d="M580 605V712.4H612.6" fill="none" stroke="#000" stroke-width="1.4" stroke-linecap="square"/>
<path d="M576.7 605H580M576.7 626.48H580M576.7 647.96H580M576.7 669.44H580M576.7 690.92H580M576.7 712.4H580M596.4 712.4V715.7" stroke="#000" stroke-width="1.4" fill="none"/>
<text transform="translate(575.8 608.41) scale(1 1.1)" font-size="7.9" text-anchor="end">5</text>
<text transform="translate(575.8 629.89) scale(1 1.1)" font-size="7.9" text-anchor="end">4</text>
<text transform="translate(575.8 651.37) scale(1 1.1)" font-size="7.9" text-anchor="end">3</text>
<text transform="translate(575.8 672.85) scale(1 1.1)" font-size="7.9" text-anchor="end">2</text>
<text transform="translate(575.8 694.33) scale(1 1.1)" font-size="7.9" text-anchor="end">1</text>
<text transform="translate(575.8 715.81) scale(1 1.1)" font-size="7.9" text-anchor="end">0</text>
<text transform="translate(599 722.6) rotate(-45)" font-size="8.2" text-anchor="end">Tumor</text>
<text transform="translate(567.72 659) rotate(-90) scale(1 1.07)" font-size="9.15" text-anchor="middle" xml:space="preserve">PD-L1  MFI / Iso  MFI</text>
<path d="M588.4 609.4H604.4" stroke="#000" stroke-width="1.4"/>
<text x="596.4" y="610.5" font-size="10" text-anchor="middle" class="st">*</text>
<path d="M586 669H595M590.5 665V673M587.9 665H593.1M587.9 673H593.1" stroke="#000" stroke-width="1.1" fill="none"/>
<circle cx="590.4" cy="642" r="2.75"/>
<circle cx="588" cy="659.4" r="2.75"/>
<circle cx="593" cy="659.4" r="2.75"/>
<circle cx="588" cy="667.4" r="2.75"/>
<circle cx="593" cy="672" r="2.75"/>
<circle cx="587.4" cy="678.4" r="2.75"/>
<circle cx="591" cy="678.6" r="2.75"/>
<circle cx="594" cy="678.4" r="2.75"/>
<circle cx="589.4" cy="683" r="2.75"/>
<path d="M598 648H607.4M602.7 643V652.6M600.1 643H605.3M600.1 652.6H605.3" stroke="#000" stroke-width="1.1" fill="none"/>
<circle cx="602.4" cy="624.6" r="2.05" fill="#fff" stroke="#000" stroke-width="1.15"/>
<circle cx="602.4" cy="635.4" r="2.05" fill="#fff" stroke="#000" stroke-width="1.15"/>
<circle cx="604.4" cy="644.4" r="2.05" fill="#fff" stroke="#000" stroke-width="1.15"/>
<circle cx="600" cy="646.6" r="2.05" fill="#fff" stroke="#000" stroke-width="1.15"/>
<circle cx="602.4" cy="650" r="2.05" fill="#fff" stroke="#000" stroke-width="1.15"/>
<circle cx="600.4" cy="656.6" r="2.05" fill="#fff" stroke="#000" stroke-width="1.15"/>
<circle cx="604.6" cy="659.6" r="2.05" fill="#fff" stroke="#000" stroke-width="1.15"/>
<circle cx="602.4" cy="663.6" r="2.05" fill="#fff" stroke="#000" stroke-width="1.15"/></g>
<g><path d="M84 780V887.2H148.6" fill="none" stroke="#000" stroke-width="1.4" stroke-linecap="square"/>
<path d="M80.7 780H84M80.7 801.44H84M80.7 822.88H84M80.7 844.32H84M80.7 865.76H84M80.7 887.2H84M99.4 887.2V890.5M132.4 887.2V890.5" stroke="#000" stroke-width="1.4" fill="none"/>
<text transform="translate(79.8 783.41) scale(1 1.1)" font-size="7.9" text-anchor="end">10</text>
<text transform="translate(79.8 804.85) scale(1 1.1)" font-size="7.9" text-anchor="end">8</text>
<text transform="translate(79.8 826.29) scale(1 1.1)" font-size="7.9" text-anchor="end">6</text>
<text transform="translate(79.8 847.73) scale(1 1.1)" font-size="7.9" text-anchor="end">4</text>
<text transform="translate(79.8 869.17) scale(1 1.1)" font-size="7.9" text-anchor="end">2</text>
<text transform="translate(79.8 890.61) scale(1 1.1)" font-size="7.9" text-anchor="end">0</text>
<text transform="translate(102 897.4) rotate(-45)" font-size="8.2" text-anchor="end">TAM</text>
<text transform="translate(135 897.4) rotate(-45)" font-size="8.2" text-anchor="end">DC</text>
<text transform="translate(70.32 834) rotate(-90) scale(1 1.07)" font-size="9.15" text-anchor="middle" xml:space="preserve">% CD45<tspan dy="-3.39" font-size="6.04">+</tspan></text>
<path d="M125.4 784H141" stroke="#000" stroke-width="1.4"/>
<text x="133.2" y="785.1" font-size="10" text-anchor="middle" class="st">*</text>
<path d="M89 810H98.6M93.8 804.4V817M91.2 804.4H96.4M91.2 817H96.4" stroke="#000" stroke-width="1.1" fill="none"/>
<circle cx="94" cy="780" r="2.75"/>
<circle cx="91.4" cy="800" r="2.75"/>
<circle cx="97" cy="804.4" r="2.75"/>
<circle cx="90.6" cy="808" r="2.75"/>
<circle cx="94" cy="809" r="2.75"/>
<circle cx="95.6" cy="808" r="2.75"/>
<circle cx="93" cy="811" r="2.75"/>
<circle cx="94" cy="836" r="2.75"/>
<circle cx="94" cy="843.4" r="2.75"/>
<path d="M100.6 818.6H110.6M105.6 810V827M103 810H108.2M103 827H108.2" stroke="#000" stroke-width="1.1" fill="none"/>
<circle cx="105.6" cy="783.4" r="2.05" fill="#fff" stroke="#000" stroke-width="1.15"/>
<circle cx="105.6" cy="800.4" r="2.05" fill="#fff" stroke="#000" stroke-width="1.15"/>
<circle cx="105.6" cy="815" r="2.05" fill="#fff" stroke="#000" stroke-width="1.15"/>
<circle cx="103" cy="825.6" r="2.05" fill="#fff" stroke="#000" stroke-width="1.15"/>
<circle cx="108" cy="824.4" r="2.05" fill="#fff" stroke="#000" stroke-width="1.15"/>
<circle cx="105.6" cy="832.6" r="2.05" fill="#fff" stroke="#000" stroke-width="1.15"/>
<circle cx="105.6" cy="847.4" r="2.05" fill="#fff" stroke="#000" stroke-width="1.15"/>
<path d="M122 847.4H132M127 840.4V853.6M124.4 840.4H129.6M124.4 853.6H129.6" stroke="#000" stroke-width="1.1" fill="none"/>
<circle cx="128.6" cy="824.4" r="2.75"/>
<circle cx="125" cy="829" r="2.75"/>
<circle cx="127" cy="830" r="2.75"/>
<circle cx="124.6" cy="848" r="2.75"/>
<circle cx="129" cy="847.6" r="2.75"/>
<circle cx="127" cy="857.6" r="2.75"/>
<circle cx="124.4" cy="869.4" r="2.75"/>
<circle cx="129.4" cy="869" r="2.75"/>
<path d="M133.6 828.6H143.6M138.6 825V832.4M136 825H141.2M136 832.4H141.2" stroke="#000" stroke-width="1.1" fill="none"/>
<circle cx="138.6" cy="808" r="2.05" fill="#fff" stroke="#000" stroke-width="1.15"/>
<circle cx="138.6" cy="818.6" r="2.05" fill="#fff" stroke="#000" stroke-width="1.15"/>
<circle cx="138.6" cy="825.4" r="2.05" fill="#fff" stroke="#000" stroke-width="1.15"/>
<circle cx="140.6" cy="830" r="2.05" fill="#fff" stroke="#000" stroke-width="1.15"/>
<circle cx="136.6" cy="835.6" r="2.05" fill="#fff" stroke="#000" stroke-width="1.15"/>
<circle cx="138.6" cy="837" r="2.05" fill="#fff" stroke="#000" stroke-width="1.15"/>
<circle cx="138.6" cy="847.4" r="2.05" fill="#fff" stroke="#000" stroke-width="1.15"/></g>
<g><path d="M227.4 780V887H259.6" fill="none" stroke="#000" stroke-width="1.4" stroke-linecap="square"/>
<path d="M224.1 780H227.4M224.1 801.4H227.4M224.1 822.8H227.4M224.1 844.2H227.4M224.1 865.6H227.4M224.1 887H227.4M243.4 887V890.3" stroke="#000" stroke-width="1.4" fill="none"/>
<text transform="translate(223.2 783.41) scale(1 1.1)" font-size="7.9" text-anchor="end">100</text>
<text transform="translate(223.2 804.81) scale(1 1.1)" font-size="7.9" text-anchor="end">80</text>
<text transform="translate(223.2 826.21) scale(1 1.1)" font-size="7.9" text-anchor="end">60</text>
<text transform="translate(223.2 847.61) scale(1 1.1)" font-size="7.9" text-anchor="end">40</text>
<text transform="translate(223.2 869.01) scale(1 1.1)" font-size="7.9" text-anchor="end">20</text>
<text transform="translate(223.2 890.41) scale(1 1.1)" font-size="7.9" text-anchor="end">0</text>
<text transform="translate(246 897.2) rotate(-45)" font-size="8.2" text-anchor="end">MDSC</text>
<text transform="translate(210.32 834) rotate(-90) scale(1 1.07)" font-size="9.15" text-anchor="middle" xml:space="preserve">% CD45<tspan dy="-3.39" font-size="6.04">+</tspan></text>
<path d="M236 784.6H252" stroke="#000" stroke-width="1.4"/>
<text x="244" y="785.7" font-size="10" text-anchor="middle" class="st">*</text>
<path d="M233 870H242.6" stroke="#000" stroke-width="1.1" fill="none"/>
<circle cx="239.4" cy="864" r="2.75"/>
<circle cx="236" cy="866.6" r="2.75"/>
<circle cx="238.6" cy="868" r="2.75"/>
<circle cx="235" cy="870.6" r="2.75"/>
<circle cx="239.4" cy="871.6" r="2.75"/>
<circle cx="237.4" cy="873" r="2.75"/>
<circle cx="237" cy="876.6" r="2.75"/>
<circle cx="239" cy="875.6" r="2.75"/>
<path d="M244.6 875H254.2" stroke="#000" stroke-width="1.1" fill="none"/>
<circle cx="251.6" cy="868.6" r="2.05" fill="#fff" stroke="#000" stroke-width="1.15"/>
<circle cx="248" cy="870.6" r="2.05" fill="#fff" stroke="#000" stroke-width="1.15"/>
<circle cx="250" cy="873" r="2.05" fill="#fff" stroke="#000" stroke-width="1.15"/>
<circle cx="247.4" cy="874.4" r="2.05" fill="#fff" stroke="#000" stroke-width="1.15"/>
<circle cx="252.4" cy="874.6" r="2.05" fill="#fff" stroke="#000" stroke-width="1.15"/>
<circle cx="249" cy="877.6" r="2.05" fill="#fff" stroke="#000" stroke-width="1.15"/>
<circle cx="250.4" cy="879.6" r="2.05" fill="#fff" stroke="#000" stroke-width="1.15"/>
<circle cx="249.4" cy="881" r="2.05" fill="#fff" stroke="#000" stroke-width="1.15"/></g>
<g><path d="M435.6 780V887.4H500.4" fill="none" stroke="#000" stroke-width="1.4" stroke-linecap="square"/>
<path d="M432.3 780H435.6M432.3 801.48H435.6M432.3 822.96H435.6M432.3 844.44H435.6M432.3 865.92H435.6M432.3 887.4H435.6M451.4 887.4V890.7M484.4 887.4V890.7" stroke="#000" stroke-width="1.4" fill="none"/>
<text transform="translate(431.4 783.41) scale(1 1.1)" font-size="7.9" text-anchor="end">100</text>
<text transform="translate(431.4 804.89) scale(1 1.1)" font-size="7.9" text-anchor="end">80</text>
<text transform="translate(431.4 826.37) scale(1 1.1)" font-size="7.9" text-anchor="end">60</text>
<text transform="translate(431.4 847.85) scale(1 1.1)" font-size="7.9" text-anchor="end">40</text>
<text transform="translate(431.4 869.33) scale(1 1.1)" font-size="7.9" text-anchor="end">20</text>
<text transform="translate(431.4 890.81) scale(1 1.1)" font-size="7.9" text-anchor="end">0</text>
<text transform="translate(454 897.6) rotate(-45)" font-size="8.2" text-anchor="end">TAM</text>
<text transform="translate(487 897.6) rotate(-45)" font-size="8.2" text-anchor="end">MDSC</text>
<text transform="translate(413.72 834) rotate(-90) scale(1 1.07)" font-size="9.15" text-anchor="middle" xml:space="preserve">PD-L1 Positive (%)</text>
<path d="M441 818H450.6" stroke="#000" stroke-width="1.1" fill="none"/>
<circle cx="445.6" cy="808.6" r="2.75"/>
<circle cx="447.6" cy="814.4" r="2.75"/>
<circle cx="444" cy="817.6" r="2.75"/>
<circle cx="446" cy="818.6" r="2.75"/>
<circle cx="447.6" cy="820" r="2.75"/>
<circle cx="445.6" cy="824.4" r="2.75"/>
<circle cx="444.4" cy="816.6" r="2.75"/>
<path d="M452.6 817.6H462.6M457.6 814V821M455 814H460.2M455 821H460.2" stroke="#000" stroke-width="1.1" fill="none"/>
<circle cx="455.4" cy="804" r="2.05" fill="#fff" stroke="#000" stroke-width="1.15"/>
<circle cx="459" cy="805.6" r="2.05" fill="#fff" stroke="#000" stroke-width="1.15"/>
<circle cx="457.4" cy="810.4" r="2.05" fill="#fff" stroke="#000" stroke-width="1.15"/>
<circle cx="459.4" cy="817.6" r="2.05" fill="#fff" stroke="#000" stroke-width="1.15"/>
<circle cx="455.4" cy="819.4" r="2.05" fill="#fff" stroke="#000" stroke-width="1.15"/>
<circle cx="457.4" cy="823.6" r="2.05" fill="#fff" stroke="#000" stroke-width="1.15"/>
<circle cx="460" cy="825.4" r="2.05" fill="#fff" stroke="#000" stroke-width="1.15"/>
<circle cx="455" cy="831" r="2.05" fill="#fff" stroke="#000" stroke-width="1.15"/>
<path d="M474 853H483.6" stroke="#000" stroke-width="1.1" fill="none"/>
<circle cx="476" cy="846" r="2.75"/>
<circle cx="481" cy="846" r="2.75"/>
<circle cx="475" cy="852.6" r="2.75"/>
<circle cx="478.6" cy="853.4" r="2.75"/>
<circle cx="482" cy="852.6" r="2.75"/>
<circle cx="477" cy="856.6" r="2.75"/>
<circle cx="480.6" cy="859.4" r="2.75"/>
<circle cx="478.6" cy="862" r="2.75"/>
<path d="M486 847H495.6M490.8 843V851M488.2 843H493.4M488.2 851H493.4" stroke="#000" stroke-width="1.1" fill="none"/>
<circle cx="490.6" cy="833.4" r="2.05" fill="#fff" stroke="#000" stroke-width="1.15"/>
<circle cx="492.6" cy="836.6" r="2.05" fill="#fff" stroke="#000" stroke-width="1.15"/>
<circle cx="487.6" cy="842.4" r="2.05" fill="#fff" stroke="#000" stroke-width="1.15"/>
<circle cx="492.6" cy="847" r="2.05" fill="#fff" stroke="#000" stroke-width="1.15"/>
<circle cx="488.6" cy="847.4" r="2.05" fill="#fff" stroke="#000" stroke-width="1.15"/>
<circle cx="490" cy="853.6" r="2.05" fill="#fff" stroke="#000" stroke-width="1.15"/>
<circle cx="492.6" cy="855" r="2.05" fill="#fff" stroke="#000" stroke-width="1.15"/>
<circle cx="487.6" cy="861.4" r="2.05" fill="#fff" stroke="#000" stroke-width="1.15"/></g>
<g><path d="M580 780V887.4H612.6" fill="none" stroke="#000" stroke-width="1.4" stroke-linecap="square"/>
<path d="M576.7 780H580M576.7 801.48H580M576.7 822.96H580M576.7 844.44H580M576.7 865.92H580M576.7 887.4H580M596 887.4V890.7" stroke="#000" stroke-width="1.4" fill="none"/>
<text transform="translate(575.8 783.41) scale(1 1.1)" font-size="7.9" text-anchor="end">5</text>
<text transform="translate(575.8 804.89) scale(1 1.1)" font-size="7.9" text-anchor="end">4</text>
<text transform="translate(575.8 826.37) scale(1 1.1)" font-size="7.9" text-anchor="end">3</text>
<text transform="translate(575.8 847.85) scale(1 1.1)" font-size="7.9" text-anchor="end">2</text>
<text transform="translate(575.8 869.33) scale(1 1.1)" font-size="7.9" text-anchor="end">1</text>
<text transform="translate(575.8 890.81) scale(1 1.1)" font-size="7.9" text-anchor="end">0</text>
<text transform="translate(598.6 897.6) rotate(-45)" font-size="8.2" text-anchor="end">Tumor</text>
<text transform="translate(567.72 834) rotate(-90) scale(1 1.07)" font-size="9.15" text-anchor="middle" xml:space="preserve">PD-L1  MFI / Iso  MFI</text>
<path d="M588 786.4H604" stroke="#000" stroke-width="1.4"/>
<text x="596" y="787.5" font-size="10" text-anchor="middle" class="st">***</text>
<path d="M585.4 843H595" stroke="#000" stroke-width="1.1" fill="none"/>
<circle cx="586.6" cy="836" r="2.75"/>
<circle cx="594" cy="840" r="2.75"/>
<circle cx="590" cy="841" r="2.75"/>
<circle cx="592" cy="842" r="2.75"/>
<circle cx="588" cy="843.4" r="2.75"/>
<circle cx="587" cy="845" r="2.75"/>
<circle cx="590" cy="845" r="2.75"/>
<circle cx="588.6" cy="849.4" r="2.75"/>
<path d="M597.4 830.4H607" stroke="#000" stroke-width="1.1" fill="none"/>
<circle cx="602" cy="827.4" r="2.05" fill="#fff" stroke="#000" stroke-width="1.15"/>
<circle cx="600.6" cy="830" r="2.05" fill="#fff" stroke="#000" stroke-width="1.15"/>
<circle cx="603.6" cy="830.4" r="2.05" fill="#fff" stroke="#000" stroke-width="1.15"/>
<circle cx="602" cy="832.4" r="2.05" fill="#fff" stroke="#000" stroke-width="1.15"/>
<circle cx="602" cy="836" r="2.05" fill="#fff" stroke="#000" stroke-width="1.15"/></g>
<g><path d="M84 975.6V1083.2H174" fill="none" stroke="#000" stroke-width="1.4" stroke-linecap="square"/>
<path d="M80.7 975.6H84M80.7 997.12H84M80.7 1018.64H84M80.7 1040.16H84M80.7 1061.68H84M80.7 1083.2H84M106 1083.2V1086.5M151.4 1083.2V1086.5" stroke="#000" stroke-width="1.4" fill="none"/>
<text transform="translate(79.8 979.01) scale(1 1.1)" font-size="7.9" text-anchor="end">10</text>
<text transform="translate(79.8 1000.53) scale(1 1.1)" font-size="7.9" text-anchor="end">8</text>
<text transform="translate(79.8 1022.05) scale(1 1.1)" font-size="7.9" text-anchor="end">6</text>
<text transform="translate(79.8 1043.57) scale(1 1.1)" font-size="7.9" text-anchor="end">4</text>
<text transform="translate(79.8 1065.09) scale(1 1.1)" font-size="7.9" text-anchor="end">2</text>
<text transform="translate(79.8 1086.61) scale(1 1.1)" font-size="7.9" text-anchor="end">0</text>
<text transform="translate(108.6 1093.4) rotate(-45)" font-size="8.2" text-anchor="end">TAM</text>
<text transform="translate(154 1093.4) rotate(-45)" font-size="8.2" text-anchor="end">DC</text>
<text transform="translate(70.32 1030) rotate(-90) scale(1 1.07)" font-size="9.15" text-anchor="middle" xml:space="preserve">% CD45+</text>
<path d="M89.4 979.2H117.6" stroke="#000" stroke-width="1.4"/>
<text x="105" y="981.4" font-size="10" text-anchor="middle" class="st">***</text>
<path d="M90 988H104.4" stroke="#000" stroke-width="1.4"/>
<text x="97.2" y="990.2" font-size="10" text-anchor="middle" class="st">***</text>
<path d="M136.6 979.2H164.6" stroke="#000" stroke-width="1.4"/>
<text x="151.6" y="981.4" font-size="10" text-anchor="middle" class="st">**</text>
<path d="M137 988H152" stroke="#000" stroke-width="1.4"/>
<text x="144.5" y="990.2" font-size="10" text-anchor="middle" class="st">**</text>
<path d="M90.2 1079H98.2" stroke="#000" stroke-width="1.1" fill="none"/>
<circle cx="92.4" cy="1077.6" r="2.75"/>
<circle cx="94.2" cy="1077.2" r="2.75"/>
<circle cx="96" cy="1077.6" r="2.75"/>
<circle cx="93" cy="1079.2" r="2.75"/>
<circle cx="95.4" cy="1079.2" r="2.75"/>
<circle cx="94.2" cy="1080.4" r="2.75"/>
<circle cx="94.2" cy="1081.8" r="2.75"/>
<path d="M101 1038H111M106 1029.4V1047M103.4 1029.4H108.6M103.4 1047H108.6" stroke="#000" stroke-width="1.1" fill="none"/>
<circle cx="106" cy="996.6" r="2.05" fill="#fff" stroke="#000" stroke-width="1.15"/>
<circle cx="106" cy="1012.6" r="2.05" fill="#fff" stroke="#000" stroke-width="1.15"/>
<circle cx="106" cy="1024.6" r="2.05" fill="#fff" stroke="#000" stroke-width="1.15"/>
<circle cx="103.6" cy="1047.4" r="2.05" fill="#fff" stroke="#000" stroke-width="1.15"/>
<circle cx="108.6" cy="1047" r="2.05" fill="#fff" stroke="#000" stroke-width="1.15"/>
<circle cx="106" cy="1050.6" r="2.05" fill="#fff" stroke="#000" stroke-width="1.15"/>
<circle cx="108.6" cy="1060.4" r="2.05" fill="#fff" stroke="#000" stroke-width="1.15"/>
<circle cx="103.6" cy="1067" r="2.05" fill="#fff" stroke="#000" stroke-width="1.15"/>
<path d="M113.4 1041H123.4M118.4 1033.4V1049M115.8 1033.4H121M115.8 1049H121" stroke="#000" stroke-width="1.1" fill="none"/>
<path d="M118.4 994.8L120.6 999.4H116.2Z" fill="#fff" stroke="#000" stroke-width="1.15" stroke-linejoin="miter"/>
<path d="M118.4 1010.4L120.6 1015H116.2Z" fill="#fff" stroke="#000" stroke-width="1.15" stroke-linejoin="miter"/>
<path d="M118.4 1038.4L120.6 1043H116.2Z" fill="#fff" stroke="#000" stroke-width="1.15" stroke-linejoin="miter"/>
<path d="M116 1045.4L118.2 1050H113.8Z" fill="#fff" stroke="#000" stroke-width="1.15" stroke-linejoin="miter"/>
<path d="M120.6 1045.4L122.8 1050H118.4Z" fill="#fff" stroke="#000" stroke-width="1.15" stroke-linejoin="miter"/>
<path d="M118.4 1046.8L120.6 1051.4H116.2Z" fill="#fff" stroke="#000" stroke-width="1.15" stroke-linejoin="miter"/>
<path d="M117 1049.4L119.2 1054H114.8Z" fill="#fff" stroke="#000" stroke-width="1.15" stroke-linejoin="miter"/>
<path d="M118.4 1051.4L120.6 1056H116.2Z" fill="#fff" stroke="#000" stroke-width="1.15" stroke-linejoin="miter"/>
<path d="M118.4 1067.8L120.6 1072.4H116.2Z" fill="#fff" stroke="#000" stroke-width="1.15" stroke-linejoin="miter"/>
<path d="M135 1082.6H144.4" stroke="#000" stroke-width="1.1" fill="none"/>
<circle cx="136.4" cy="1082.6" r="2.75"/>
<circle cx="138" cy="1082.4" r="2.75"/>
<circle cx="139.6" cy="1082.6" r="2.75"/>
<circle cx="141.2" cy="1082.4" r="2.75"/>
<circle cx="142.8" cy="1082.6" r="2.75"/>
<circle cx="139" cy="1082.8" r="2.75"/>
<path d="M147 1082H157" stroke="#000" stroke-width="1.1" fill="none"/>
<circle cx="149" cy="1082.2" r="2.05" fill="#fff" stroke="#000" stroke-width="1.15"/>
<circle cx="151" cy="1081.8" r="2.05" fill="#fff" stroke="#000" stroke-width="1.15"/>
<circle cx="153" cy="1081.4" r="2.05" fill="#fff" stroke="#000" stroke-width="1.15"/>
<circle cx="154.6" cy="1082" r="2.05" fill="#fff" stroke="#000" stroke-width="1.15"/>
<circle cx="152" cy="1082.4" r="2.05" fill="#fff" stroke="#000" stroke-width="1.15"/>
<path d="M159.4 1081.6H169" stroke="#000" stroke-width="1.1" fill="none"/>
<path d="M161.6 1078.8L163.8 1083.4H159.4Z" fill="#fff" stroke="#000" stroke-width="1.15" stroke-linejoin="miter"/>
<path d="M163.4 1078L165.6 1082.6H161.2Z" fill="#fff" stroke="#000" stroke-width="1.15" stroke-linejoin="miter"/>
<path d="M165 1079L167.2 1083.6H162.8Z" fill="#fff" stroke="#000" stroke-width="1.15" stroke-linejoin="miter"/>
<path d="M166.6 1078.8L168.8 1083.4H164.4Z" fill="#fff" stroke="#000" stroke-width="1.15" stroke-linejoin="miter"/>
<path d="M164 1079.4L166.2 1084H161.8Z" fill="#fff" stroke="#000" stroke-width="1.15" stroke-linejoin="miter"/></g>
<g><path d="M227.4 975.6V1083H271.4" fill="none" stroke="#000" stroke-width="1.4" stroke-linecap="square"/>
<path d="M224.1 975.6H227.4M224.1 997.08H227.4M224.1 1018.56H227.4M224.1 1040.04H227.4M224.1 1061.52H227.4M224.1 1083H227.4M249 1083V1086.3" stroke="#000" stroke-width="1.4" fill="none"/>
<text transform="translate(223.2 979.01) scale(1 1.1)" font-size="7.9" text-anchor="end">100</text>
<text transform="translate(223.2 1000.49) scale(1 1.1)" font-size="7.9" text-anchor="end">80</text>
<text transform="translate(223.2 1021.97) scale(1 1.1)" font-size="7.9" text-anchor="end">60</text>
<text transform="translate(223.2 1043.45) scale(1 1.1)" font-size="7.9" text-anchor="end">40</text>
<text transform="translate(223.2 1064.93) scale(1 1.1)" font-size="7.9" text-anchor="end">20</text>
<text transform="translate(223.2 1086.41) scale(1 1.1)" font-size="7.9" text-anchor="end">0</text>
<text transform="translate(251.6 1093.2) rotate(-45)" font-size="8.2" text-anchor="end">MDSC</text>
<text transform="translate(209.72 1030) rotate(-90) scale(1 1.07)" font-size="9.15" text-anchor="middle" xml:space="preserve">% CD45<tspan dy="-3.39" font-size="6.04">+</tspan></text>
<path d="M235 962.4H263.6" stroke="#000" stroke-width="1.4"/>
<text x="249.3" y="964.6" font-size="10" text-anchor="middle" class="st">**</text>
<path d="M235 973H247.6" stroke="#000" stroke-width="1.4"/>
<text x="241.3" y="975.2" font-size="10" text-anchor="middle" class="st">**</text>
<path d="M232.2 982H241.8" stroke="#000" stroke-width="1.1" fill="none"/>
<circle cx="233.6" cy="978" r="2.75"/>
<circle cx="237.4" cy="978.6" r="2.75"/>
<circle cx="240.6" cy="979.6" r="2.75"/>
<circle cx="234.6" cy="982" r="2.75"/>
<circle cx="238.6" cy="982.6" r="2.75"/>
<circle cx="235.6" cy="985" r="2.75"/>
<circle cx="239" cy="986" r="2.75"/>
<circle cx="237" cy="989" r="2.75"/>
<path d="M244.4 991H254" stroke="#000" stroke-width="1.1" fill="none"/>
<circle cx="249" cy="982" r="2.05" fill="#fff" stroke="#000" stroke-width="1.15"/>
<circle cx="247.4" cy="986.6" r="2.05" fill="#fff" stroke="#000" stroke-width="1.15"/>
<circle cx="251" cy="987" r="2.05" fill="#fff" stroke="#000" stroke-width="1.15"/>
<circle cx="246" cy="992.6" r="2.05" fill="#fff" stroke="#000" stroke-width="1.15"/>
<circle cx="249.4" cy="992.6" r="2.05" fill="#fff" stroke="#000" stroke-width="1.15"/>
<circle cx="253" cy="992.6" r="2.05" fill="#fff" stroke="#000" stroke-width="1.15"/>
<circle cx="247.4" cy="998" r="2.05" fill="#fff" stroke="#000" stroke-width="1.15"/>
<circle cx="250.6" cy="998" r="2.05" fill="#fff" stroke="#000" stroke-width="1.15"/>
<path d="M256.2 990.6H265.8" stroke="#000" stroke-width="1.1" fill="none"/>
<path d="M261 979.4L263.2 984H258.8Z" fill="#fff" stroke="#000" stroke-width="1.15" stroke-linejoin="miter"/>
<path d="M259.4 983.4L261.6 988H257.2Z" fill="#fff" stroke="#000" stroke-width="1.15" stroke-linejoin="miter"/>
<path d="M263 983.4L265.2 988H260.8Z" fill="#fff" stroke="#000" stroke-width="1.15" stroke-linejoin="miter"/>
<path d="M258.4 987.4L260.6 992H256.2Z" fill="#fff" stroke="#000" stroke-width="1.15" stroke-linejoin="miter"/>
<path d="M262 987.4L264.2 992H259.8Z" fill="#fff" stroke="#000" stroke-width="1.15" stroke-linejoin="miter"/>
<path d="M264.4 990L266.6 994.6H262.2Z" fill="#fff" stroke="#000" stroke-width="1.15" stroke-linejoin="miter"/>
<path d="M259.4 992.4L261.6 997H257.2Z" fill="#fff" stroke="#000" stroke-width="1.15" stroke-linejoin="miter"/>
<path d="M262.6 991.8L264.8 996.4H260.4Z" fill="#fff" stroke="#000" stroke-width="1.15" stroke-linejoin="miter"/>
<path d="M260 996.4L262.2 1001H257.8Z" fill="#fff" stroke="#000" stroke-width="1.15" stroke-linejoin="miter"/></g>
<g><path d="M435.6 975.6V1083H527" fill="none" stroke="#000" stroke-width="1.4" stroke-linecap="square"/>
<path d="M432.3 975.6H435.6M432.3 997.08H435.6M432.3 1018.56H435.6M432.3 1040.04H435.6M432.3 1061.52H435.6M432.3 1083H435.6M458 1083V1086.3M504.4 1083V1086.3" stroke="#000" stroke-width="1.4" fill="none"/>
<text transform="translate(431.4 979.01) scale(1 1.1)" font-size="7.9" text-anchor="end">100</text>
<text transform="translate(431.4 1000.49) scale(1 1.1)" font-size="7.9" text-anchor="end">80</text>
<text transform="translate(431.4 1021.97) scale(1 1.1)" font-size="7.9" text-anchor="end">60</text>
<text transform="translate(431.4 1043.45) scale(1 1.1)" font-size="7.9" text-anchor="end">40</text>
<text transform="translate(431.4 1064.93) scale(1 1.1)" font-size="7.9" text-anchor="end">20</text>
<text transform="translate(431.4 1086.41) scale(1 1.1)" font-size="7.9" text-anchor="end">0</text>
<text transform="translate(460.6 1093.2) rotate(-45)" font-size="8.2" text-anchor="end">TAM</text>
<text transform="translate(507 1093.2) rotate(-45)" font-size="8.2" text-anchor="end">MDSC</text>
<text transform="translate(413.72 1030) rotate(-90) scale(1 1.07)" font-size="9.15" text-anchor="middle" xml:space="preserve">PD-L1 Positive (%)</text>
<path d="M442 954H470" stroke="#000" stroke-width="1.4"/>
<text x="456.6" y="956.2" font-size="10" text-anchor="middle" class="st">****</text>
<path d="M442 964.6H455.6" stroke="#000" stroke-width="1.4"/>
<text x="448.8" y="966.8" font-size="10" text-anchor="middle" class="st">****</text>
<path d="M489.4 954H518" stroke="#000" stroke-width="1.4"/>
<text x="503.4" y="956.2" font-size="10" text-anchor="middle" class="st">****</text>
<path d="M489.4 964.6H502.6" stroke="#000" stroke-width="1.4"/>
<text x="496" y="966.8" font-size="10" text-anchor="middle" class="st">****</text>
<path d="M505 964.6H518" stroke="#000" stroke-width="1.4"/>
<text x="511.5" y="966.8" font-size="10" text-anchor="middle" class="st">*</text>
<path d="M441.4 1009.6H451M446.2 1001V1019M443.6 1001H448.8M443.6 1019H448.8" stroke="#000" stroke-width="1.1" fill="none"/>
<circle cx="443.6" cy="998" r="2.75"/>
<circle cx="451" cy="999.6" r="2.75"/>
<circle cx="448.4" cy="1003.4" r="2.75"/>
<circle cx="443.6" cy="1009" r="2.75"/>
<circle cx="448" cy="1009.4" r="2.75"/>
<circle cx="446" cy="1014" r="2.75"/>
<circle cx="444" cy="1016" r="2.75"/>
<circle cx="446" cy="1027" r="2.75"/>
<path d="M453.2 982.6H462.8" stroke="#000" stroke-width="1.1" fill="none"/>
<circle cx="455" cy="977.6" r="2.05" fill="#fff" stroke="#000" stroke-width="1.15"/>
<circle cx="461.4" cy="977.6" r="2.05" fill="#fff" stroke="#000" stroke-width="1.15"/>
<circle cx="458" cy="980.4" r="2.05" fill="#fff" stroke="#000" stroke-width="1.15"/>
<circle cx="454.4" cy="984.6" r="2.05" fill="#fff" stroke="#000" stroke-width="1.15"/>
<circle cx="461.6" cy="983" r="2.05" fill="#fff" stroke="#000" stroke-width="1.15"/>
<circle cx="459" cy="986" r="2.05" fill="#fff" stroke="#000" stroke-width="1.15"/>
<circle cx="456.4" cy="988.4" r="2.05" fill="#fff" stroke="#000" stroke-width="1.15"/>
<circle cx="458" cy="982.4" r="2.05" fill="#fff" stroke="#000" stroke-width="1.15"/>
<path d="M465.8 979H475.4" stroke="#000" stroke-width="1.1" fill="none"/>
<path d="M469 974L471.2 978.6H466.8Z" fill="#fff" stroke="#000" stroke-width="1.15" stroke-linejoin="miter"/>
<path d="M472.4 973.4L474.6 978H470.2Z" fill="#fff" stroke="#000" stroke-width="1.15" stroke-linejoin="miter"/>
<path d="M470.6 975.4L472.8 980H468.4Z" fill="#fff" stroke="#000" stroke-width="1.15" stroke-linejoin="miter"/>
<path d="M468.4 977L470.6 981.6H466.2Z" fill="#fff" stroke="#000" stroke-width="1.15" stroke-linejoin="miter"/>
<path d="M473 977L475.2 981.6H470.8Z" fill="#fff" stroke="#000" stroke-width="1.15" stroke-linejoin="miter"/>
<path d="M470.6 979.4L472.8 984H468.4Z" fill="#fff" stroke="#000" stroke-width="1.15" stroke-linejoin="miter"/>
<path d="M487.6 1040.4H497.6M492.6 1030V1050M490 1030H495.2M490 1050H495.2" stroke="#000" stroke-width="1.1" fill="none"/>
<circle cx="494.6" cy="1024" r="2.75"/>
<circle cx="490.6" cy="1026.4" r="2.75"/>
<circle cx="493" cy="1028" r="2.75"/>
<circle cx="490.6" cy="1047.4" r="2.75"/>
<circle cx="494.6" cy="1047.6" r="2.75"/>
<circle cx="492.6" cy="1051.4" r="2.75"/>
<circle cx="492" cy="1049.4" r="2.75"/>
<path d="M499.4 1005.4H509.4M504.4 1001V1010M501.8 1001H507M501.8 1010H507" stroke="#000" stroke-width="1.1" fill="none"/>
<circle cx="504.4" cy="993.4" r="2.05" fill="#fff" stroke="#000" stroke-width="1.15"/>
<circle cx="503" cy="998" r="2.05" fill="#fff" stroke="#000" stroke-width="1.15"/>
<circle cx="506.6" cy="999.4" r="2.05" fill="#fff" stroke="#000" stroke-width="1.15"/>
<circle cx="504" cy="1008.4" r="2.05" fill="#fff" stroke="#000" stroke-width="1.15"/>
<circle cx="506" cy="1010.4" r="2.05" fill="#fff" stroke="#000" stroke-width="1.15"/>
<circle cx="503.4" cy="1014.4" r="2.05" fill="#fff" stroke="#000" stroke-width="1.15"/>
<circle cx="506.6" cy="1014.4" r="2.05" fill="#fff" stroke="#000" stroke-width="1.15"/>
<circle cx="504.4" cy="1016" r="2.05" fill="#fff" stroke="#000" stroke-width="1.15"/>
<path d="M512 990.6H521.6" stroke="#000" stroke-width="1.1" fill="none"/>
<path d="M515 984L517.2 988.6H512.8Z" fill="#fff" stroke="#000" stroke-width="1.15" stroke-linejoin="miter"/>
<path d="M518.6 983.4L520.8 988H516.4Z" fill="#fff" stroke="#000" stroke-width="1.15" stroke-linejoin="miter"/>
<path d="M514 987L516.2 991.6H511.8Z" fill="#fff" stroke="#000" stroke-width="1.15" stroke-linejoin="miter"/>
<path d="M517 988L519.2 992.6H514.8Z" fill="#fff" stroke="#000" stroke-width="1.15" stroke-linejoin="miter"/>
<path d="M519.6 987L521.8 991.6H517.4Z" fill="#fff" stroke="#000" stroke-width="1.15" stroke-linejoin="miter"/>
<path d="M515.4 990L517.6 994.6H513.2Z" fill="#fff" stroke="#000" stroke-width="1.15" stroke-linejoin="miter"/>
<path d="M519 990L521.2 994.6H516.8Z" fill="#fff" stroke="#000" stroke-width="1.15" stroke-linejoin="miter"/>
<path d="M515.4 995.4L517.6 1000H513.2Z" fill="#fff" stroke="#000" stroke-width="1.15" stroke-linejoin="miter"/></g>
<g><path d="M580 975.6V1082.6H624.4" fill="none" stroke="#000" stroke-width="1.4" stroke-linecap="square"/>
<path d="M576.7 975.6H580M576.7 997H580M576.7 1018.4H580M576.7 1039.8H580M576.7 1061.2H580M576.7 1082.6H580M602 1082.6V1085.9" stroke="#000" stroke-width="1.4" fill="none"/>
<text transform="translate(575.8 979.01) scale(1 1.1)" font-size="7.9" text-anchor="end">5</text>
<text transform="translate(575.8 1000.41) scale(1 1.1)" font-size="7.9" text-anchor="end">4</text>
<text transform="translate(575.8 1021.81) scale(1 1.1)" font-size="7.9" text-anchor="end">3</text>
<text transform="translate(575.8 1043.21) scale(1 1.1)" font-size="7.9" text-anchor="end">2</text>
<text transform="translate(575.8 1064.61) scale(1 1.1)" font-size="7.9" text-anchor="end">1</text>
<text transform="translate(575.8 1086.01) scale(1 1.1)" font-size="7.9" text-anchor="end">0</text>
<text transform="translate(604.6 1092.8) rotate(-45)" font-size="8.2" text-anchor="end">Tumor</text>
<text transform="translate(567.72 1029) rotate(-90) scale(1 1.07)" font-size="9.15" text-anchor="middle" xml:space="preserve">PD-L1  MFI / Iso  MFI</text>
<path d="M588.4 979H617" stroke="#000" stroke-width="1.4"/>
<text x="603.6" y="981.2" font-size="10" text-anchor="middle" class="st">****</text>
<path d="M588 989.6H600.6" stroke="#000" stroke-width="1.4"/>
<text x="594.3" y="991.8" font-size="10" text-anchor="middle" class="st">*</text>
<path d="M604 989.6H619" stroke="#000" stroke-width="1.4"/>
<text x="611.5" y="991.8" font-size="10" text-anchor="middle" class="st">****</text>
<path d="M585.8 1056.6H595.4" stroke="#000" stroke-width="1.1" fill="none"/>
<circle cx="587.4" cy="1050.6" r="2.75"/>
<circle cx="593.6" cy="1050.6" r="2.75"/>
<circle cx="590" cy="1052.6" r="2.75"/>
<circle cx="592" cy="1055" r="2.75"/>
<circle cx="587.4" cy="1058.6" r="2.75"/>
<circle cx="593" cy="1058" r="2.75"/>
<circle cx="589" cy="1063.4" r="2.75"/>
<circle cx="592" cy="1063.4" r="2.75"/>
<path d="M597.4 1045H607" stroke="#000" stroke-width="1.1" fill="none"/>
<circle cx="600" cy="1037.4" r="2.05" fill="#fff" stroke="#000" stroke-width="1.15"/>
<circle cx="605" cy="1036" r="2.05" fill="#fff" stroke="#000" stroke-width="1.15"/>
<circle cx="602" cy="1042" r="2.05" fill="#fff" stroke="#000" stroke-width="1.15"/>
<circle cx="604.4" cy="1042.4" r="2.05" fill="#fff" stroke="#000" stroke-width="1.15"/>
<circle cx="600" cy="1046" r="2.05" fill="#fff" stroke="#000" stroke-width="1.15"/>
<circle cx="603.4" cy="1047.4" r="2.05" fill="#fff" stroke="#000" stroke-width="1.15"/>
<circle cx="601" cy="1049.6" r="2.05" fill="#fff" stroke="#000" stroke-width="1.15"/>
<circle cx="604.6" cy="1052" r="2.05" fill="#fff" stroke="#000" stroke-width="1.15"/>
<circle cx="602.4" cy="1054.4" r="2.05" fill="#fff" stroke="#000" stroke-width="1.15"/>
<path d="M609.4 1022.4H619.4M614.4 1019V1026M611.8 1019H617M611.8 1026H617" stroke="#000" stroke-width="1.1" fill="none"/>
<path d="M611.6 1004.8L613.8 1009.4H609.4Z" fill="#fff" stroke="#000" stroke-width="1.15" stroke-linejoin="miter"/>
<path d="M617 1009.4L619.2 1014H614.8Z" fill="#fff" stroke="#000" stroke-width="1.15" stroke-linejoin="miter"/>
<path d="M612.6 1013.4L614.8 1018H610.4Z" fill="#fff" stroke="#000" stroke-width="1.15" stroke-linejoin="miter"/>
<path d="M616 1016.4L618.2 1021H613.8Z" fill="#fff" stroke="#000" stroke-width="1.15" stroke-linejoin="miter"/>
<path d="M614 1017.8L616.2 1022.4H611.8Z" fill="#fff" stroke="#000" stroke-width="1.15" stroke-linejoin="miter"/>
<path d="M615 1020.8L617.2 1025.4H612.8Z" fill="#fff" stroke="#000" stroke-width="1.15" stroke-linejoin="miter"/>
<path d="M611.6 1024.4L613.8 1029H609.4Z" fill="#fff" stroke="#000" stroke-width="1.15" stroke-linejoin="miter"/>
<path d="M614.4 1022.4L616.6 1027H612.2Z" fill="#fff" stroke="#000" stroke-width="1.15" stroke-linejoin="miter"/>
<path d="M617 1028.8L619.2 1033.4H614.8Z" fill="#fff" stroke="#000" stroke-width="1.15" stroke-linejoin="miter"/>
<path d="M614.6 1045.8L616.8 1050.4H612.4Z" fill="#fff" stroke="#000" stroke-width="1.15" stroke-linejoin="miter"/></g>
</svg>
</body>
</html>
